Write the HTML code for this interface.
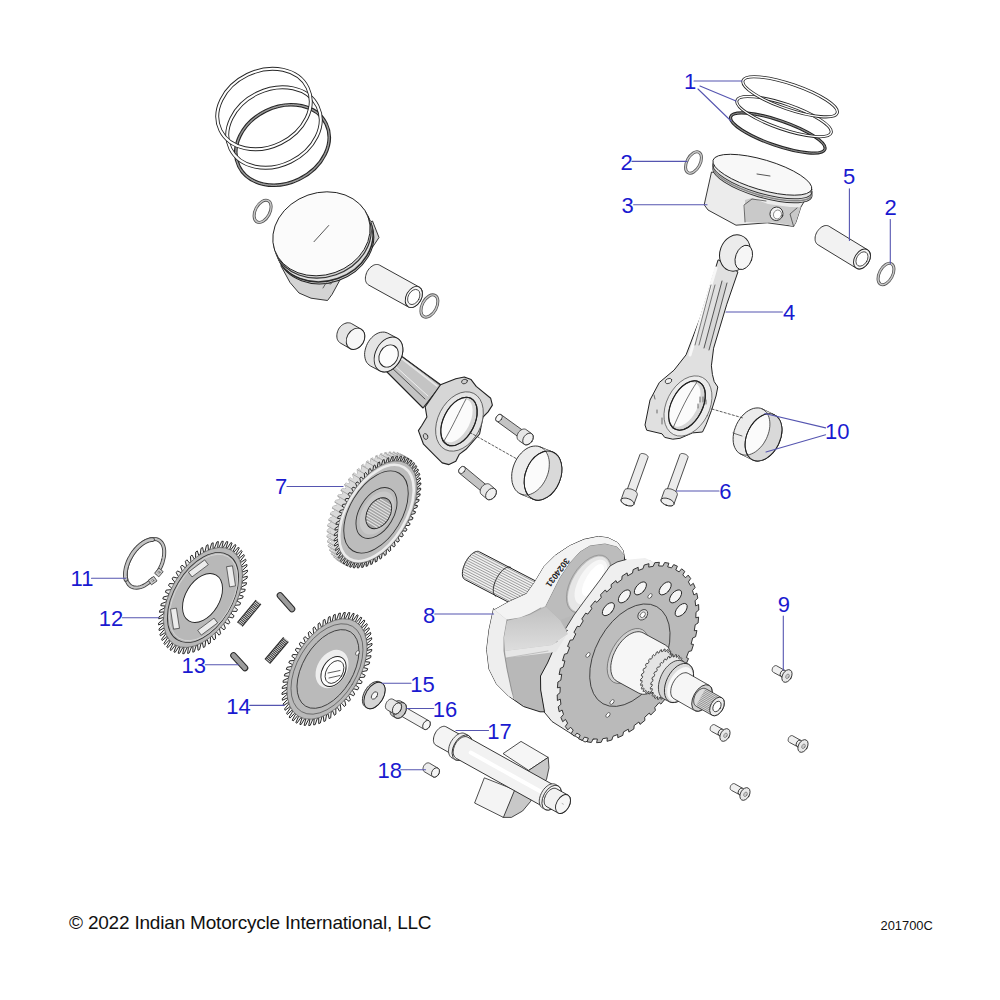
<!DOCTYPE html>
<html><head><meta charset="utf-8"><title>Crankshaft and Pistons</title>
<style>
html,body{margin:0;padding:0;background:#fff;width:1000px;height:1000px;overflow:hidden}
svg{position:absolute;left:0;top:0}
.ft{position:absolute;font-family:"Liberation Sans",sans-serif;color:#111;white-space:nowrap}
</style></head><body>
<svg width="1000" height="1000" viewBox="0 0 1000 1000" stroke-linejoin="round" stroke-linecap="round">
<ellipse cx="282.5" cy="145" rx="48.5" ry="38" transform="rotate(-26 282.5 145)" fill="none" stroke="#262626" stroke-width="3.6" />
<ellipse cx="282.5" cy="145" rx="48.5" ry="38" transform="rotate(-26 282.5 145)" fill="none" stroke="#9a9a9a" stroke-width="1.5" stroke-dasharray="1.2 0.8"/>
<ellipse cx="274" cy="127.5" rx="48.5" ry="38" transform="rotate(-26 274 127.5)" fill="none" stroke="#262626" stroke-width="3.9" />
<ellipse cx="274" cy="127.5" rx="48.5" ry="38" transform="rotate(-26 274 127.5)" fill="none" stroke="#fff" stroke-width="2.1" />
<ellipse cx="264" cy="109" rx="48.5" ry="38" transform="rotate(-26 264 109)" fill="none" stroke="#262626" stroke-width="3.9" />
<ellipse cx="264" cy="109" rx="48.5" ry="38" transform="rotate(-26 264 109)" fill="none" stroke="#fff" stroke-width="2.1" />
<ellipse cx="262.6" cy="211.3" rx="7.2" ry="12" transform="rotate(28 262.6 211.3)" fill="none" stroke="#555" stroke-width="3.0" />
<ellipse cx="262.6" cy="211.3" rx="7.2" ry="12" transform="rotate(28 262.6 211.3)" fill="none" stroke="#c8c8c8" stroke-width="1.4" />
<polygon points="281,266 290,282.5 299,293 311,298.2 327.5,300.5 332,294.5 341,278 359,266 374,245 379,237.5 372.5,221 330,240" fill="#d4d4d4" stroke="#222" stroke-width="0.9" />
<ellipse cx="325" cy="241.8" rx="49.6" ry="41" transform="rotate(-19.3 325 241.8)" fill="#d4d4d4" stroke="#222" stroke-width="1.0" />
<ellipse cx="324.2" cy="239.8" rx="49.6" ry="41" transform="rotate(-19.3 324.2 239.8)" fill="none" stroke="#2a2a2a" stroke-width="1.5" />
<ellipse cx="323.2" cy="237.8" rx="49.6" ry="41" transform="rotate(-19.3 323.2 237.8)" fill="none" stroke="#e8e8e8" stroke-width="0.8" />
<ellipse cx="322.4" cy="236" rx="49.6" ry="41" transform="rotate(-19.3 322.4 236)" fill="none" stroke="#333" stroke-width="1.2" />
<ellipse cx="321.5" cy="233.8" rx="49.6" ry="41" transform="rotate(-19.3 321.5 233.8)" fill="#fbfbfb" stroke="#222" stroke-width="0.9" />
<line x1="314" y1="241.7" x2="328.7" y2="225.5" stroke="#444" stroke-width="0.9" />
<polyline points="323,288 326,283 331,284 333,280" fill="none" stroke="#444" stroke-width="0.8" />
<polygon points="368.5,284.9 367.7,284.3 367,283.6 366.4,282.7 365.9,281.7 365.6,280.6 365.4,279.4 365.4,278.1 365.5,276.8 365.8,275.4 366.2,274 366.7,272.6 367.3,271.3 368.1,270.1 369,268.9 369.9,267.8 371,266.9 372.1,266.1 373.2,265.4 374.3,264.9 375.4,264.6 376.5,264.5 377.6,264.5 378.6,264.7 379.5,265.1 419.3,287.1 420.1,287.7 420.8,288.4 421.4,289.3 421.9,290.3 422.2,291.4 422.4,292.6 422.4,293.9 422.3,295.2 422,296.6 421.6,298 421.1,299.4 420.5,300.7 419.7,301.9 418.8,303.1 417.9,304.2 416.8,305.1 415.7,305.9 414.6,306.6 413.5,307.1 412.4,307.4 411.3,307.5 410.2,307.5 409.2,307.3 408.3,306.9" fill="#f2f2f2" stroke="#222" stroke-width="0.9" />
<ellipse cx="413.8" cy="297" rx="7.6" ry="11.3" transform="rotate(28.9 413.8 297)" fill="#f6f6f6" stroke="#222" stroke-width="0.9" />
<ellipse cx="413.8" cy="297" rx="5.5" ry="8.1" transform="rotate(28.9 413.8 297)" fill="#fff" stroke="#222" stroke-width="0.7200000000000001" />
<ellipse cx="429.4" cy="306" rx="7.2" ry="12" transform="rotate(28 429.4 306)" fill="none" stroke="#555" stroke-width="3.0" />
<ellipse cx="429.4" cy="306" rx="7.2" ry="12" transform="rotate(28 429.4 306)" fill="none" stroke="#c8c8c8" stroke-width="1.4" />
<polygon points="340.5,343.1 339.6,342.5 338.8,341.7 338.1,340.7 337.5,339.7 337.1,338.5 336.9,337.2 336.8,335.9 336.9,334.5 337.1,333.2 337.5,331.8 338,330.4 338.6,329.1 339.4,327.9 340.3,326.7 341.3,325.7 342.4,324.8 343.6,324.1 344.8,323.5 346,323.1 347.2,322.8 348.4,322.8 349.6,322.9 350.7,323.2 351.7,323.7 361.1,329.1 362,329.7 362.8,330.5 363.5,331.5 364.1,332.5 364.5,333.7 364.7,335 364.8,336.3 364.7,337.7 364.5,339 364.1,340.4 363.6,341.8 363,343.1 362.2,344.3 361.3,345.5 360.3,346.5 359.2,347.4 358,348.1 356.8,348.7 355.6,349.1 354.4,349.4 353.2,349.4 352,349.3 350.9,349 349.9,348.5" fill="#e4e4e4" stroke="#222" stroke-width="0.9" />
<ellipse cx="355.5" cy="338.8" rx="8.6" ry="11.2" transform="rotate(29.9 355.5 338.8)" fill="#f7f7f7" stroke="#222" stroke-width="0.9" />
<ellipse cx="777.8" cy="133" rx="49.8" ry="12.5" transform="rotate(19 777.8 133)" fill="none" stroke="#222" stroke-width="3.2" />
<ellipse cx="777.8" cy="133" rx="49.8" ry="12.5" transform="rotate(19 777.8 133)" fill="none" stroke="#888" stroke-width="1.2" stroke-dasharray="1.2 0.8"/>
<ellipse cx="784" cy="116.6" rx="49.8" ry="12.5" transform="rotate(19 784 116.6)" fill="none" stroke="#262626" stroke-width="3.1" />
<ellipse cx="784" cy="116.6" rx="49.8" ry="12.5" transform="rotate(19 784 116.6)" fill="none" stroke="#fff" stroke-width="1.4" />
<ellipse cx="790.1" cy="96.8" rx="49.8" ry="12.5" transform="rotate(19 790.1 96.8)" fill="none" stroke="#262626" stroke-width="3.1" />
<ellipse cx="790.1" cy="96.8" rx="49.8" ry="12.5" transform="rotate(19 790.1 96.8)" fill="none" stroke="#fff" stroke-width="1.4" />
<ellipse cx="693.5" cy="162.5" rx="6.6" ry="11.6" transform="rotate(28 693.5 162.5)" fill="none" stroke="#555" stroke-width="3.0" />
<ellipse cx="693.5" cy="162.5" rx="6.6" ry="11.6" transform="rotate(28 693.5 162.5)" fill="none" stroke="#c8c8c8" stroke-width="1.4" />
<ellipse cx="886" cy="274" rx="6.6" ry="11.6" transform="rotate(28 886 274)" fill="none" stroke="#555" stroke-width="3.0" />
<ellipse cx="886" cy="274" rx="6.6" ry="11.6" transform="rotate(28 886 274)" fill="none" stroke="#c8c8c8" stroke-width="1.4" />
<polygon points="711.4,172.4 704.2,204.8 708,210 736,225.2 767.2,222.8 793.6,226.4 796,222 800.8,207.2 808,195 760,182" fill="#ececec" stroke="#222" stroke-width="0.9" />
<polygon points="745,200 752,198 768,204 790,207 800.8,207.2 796,222 793.6,226.4 785,224 770,222 767.2,222.8 745,222" fill="#c9c9c9" stroke="none" stroke-width="0" />
<polyline points="745,222 744,205 752,199 766,201" fill="none" stroke="#333" stroke-width="0.7" />
<ellipse cx="776.5" cy="213.8" rx="6.5" ry="6.8" transform="rotate(20 776.5 213.8)" fill="#f4f4f4" stroke="#333" stroke-width="0.9" />
<ellipse cx="777.5" cy="214.5" rx="4" ry="4.5" transform="rotate(20 777.5 214.5)" fill="#fff" stroke="#555" stroke-width="0.6" />
<polyline points="793.6,226.4 790,214 797,208" fill="none" stroke="#333" stroke-width="0.7" />
<ellipse cx="762.4" cy="182.3" rx="51.5" ry="15" transform="rotate(16.5 762.4 182.3)" fill="#e4e4e4" stroke="#333" stroke-width="1.0" />
<ellipse cx="762.4" cy="180.3" rx="51.5" ry="15" transform="rotate(16.5 762.4 180.3)" fill="none" stroke="#888" stroke-width="1.6" />
<ellipse cx="762.4" cy="178.3" rx="51.5" ry="15" transform="rotate(16.5 762.4 178.3)" fill="none" stroke="#333" stroke-width="1.0" />
<ellipse cx="762.4" cy="174.8" rx="51.5" ry="15" transform="rotate(16.5 762.4 174.8)" fill="#f8f8f8" stroke="#222" stroke-width="0.9" />
<line x1="757" y1="174" x2="770" y2="176" stroke="#555" stroke-width="1.0" />
<polygon points="817.9,244.7 817.1,244.1 816.4,243.4 815.9,242.5 815.5,241.6 815.2,240.5 815.1,239.3 815.1,238.1 815.2,236.8 815.5,235.5 815.9,234.2 816.5,232.9 817.2,231.6 818,230.5 818.9,229.4 819.8,228.4 820.8,227.6 821.9,226.8 823,226.3 824.1,225.8 825.2,225.6 826.3,225.5 827.3,225.6 828.3,225.9 829.1,226.3 867.6,249.8 868.4,250.4 869.1,251.1 869.6,252 870,252.9 870.3,254 870.4,255.2 870.4,256.4 870.3,257.7 870,259 869.6,260.3 869,261.6 868.3,262.9 867.5,264 866.6,265.1 865.7,266.1 864.7,266.9 863.6,267.7 862.5,268.2 861.4,268.7 860.3,268.9 859.2,269 858.2,268.9 857.2,268.6 856.4,268.2" fill="#f2f2f2" stroke="#222" stroke-width="0.9" />
<ellipse cx="862" cy="259" rx="7.4" ry="10.8" transform="rotate(31.4 862 259)" fill="#f4f4f4" stroke="#222" stroke-width="0.9" />
<ellipse cx="862" cy="259" rx="5.3" ry="7.8" transform="rotate(31.4 862 259)" fill="#fff" stroke="#222" stroke-width="0.7200000000000001" />
<polygon points="386,371 423,408 441,385 397,353" fill="#c4c4c4" stroke="#222" stroke-width="1.1" />
<polygon points="440.5,384.7 455.8,378.8 464.3,377 471.1,379.6 476.2,386.4 490.7,398.3 492.4,405.1 488.1,411.9 483,417 479.6,434 466,449.3 459.2,454.4 455.8,461.2 449,464.6 442.2,462.9 435.4,456.1 423.5,444.2 418.4,430.6 421.8,425.5 426.9,417 425.2,406.8" fill="#d6d6d6" stroke="#222" stroke-width="1.1" />
<line x1="401" y1="358" x2="437" y2="386" stroke="#e8e8e8" stroke-width="1.6" />
<line x1="391" y1="367" x2="425" y2="399" stroke="#333" stroke-width="0.8" />
<line x1="394" y1="365" x2="428" y2="396" stroke="#eee" stroke-width="1.0" />
<line x1="403" y1="357" x2="440" y2="385" stroke="#333" stroke-width="0.8" />
<ellipse cx="459.5" cy="421.5" rx="21.5" ry="31.5" transform="rotate(27 459.5 421.5)" fill="#e4e4e4" stroke="#555" stroke-width="0.8" />
<ellipse cx="459" cy="421.5" rx="15.5" ry="26" transform="rotate(27 459 421.5)" fill="#d6d6d6" stroke="#222" stroke-width="1.1" />
<ellipse cx="457" cy="420.6" rx="12.8" ry="23.5" transform="rotate(27 457 420.6)" fill="#fbfbfb" stroke="none" stroke-width="0" />
<ellipse cx="459" cy="421.5" rx="15.5" ry="26" transform="rotate(27 459 421.5)" fill="none" stroke="#222" stroke-width="1.1" />
<path d="M466,399 C460,410 452,428 444,441" stroke="#333" stroke-width="0.7" fill="none"/>
<ellipse cx="464.5" cy="381.5" rx="3" ry="2.2" transform="rotate(-20 464.5 381.5)" fill="#cfcfcf" stroke="#333" stroke-width="0.8" />
<ellipse cx="425.6" cy="436.5" rx="2.2" ry="3" transform="rotate(-20 425.6 436.5)" fill="#cfcfcf" stroke="#333" stroke-width="0.8" />
<polygon points="370.4,365.9 369,364.9 367.7,363.7 366.6,362.3 365.8,360.7 365.2,358.8 364.8,356.8 364.6,354.7 364.7,352.4 365.1,350.2 365.7,347.9 366.5,345.6 367.5,343.4 368.7,341.4 370.1,339.4 371.7,337.6 373.3,336.1 375.1,334.7 377,333.6 378.8,332.8 380.7,332.3 382.6,332.1 384.3,332.1 386,332.5 387.6,333.1 397.1,338.1 398.5,339.1 399.8,340.3 400.9,341.7 401.7,343.3 402.3,345.2 402.7,347.2 402.9,349.3 402.8,351.6 402.4,353.8 401.8,356.1 401,358.4 400,360.6 398.8,362.6 397.4,364.6 395.8,366.4 394.2,367.9 392.4,369.3 390.5,370.4 388.7,371.2 386.8,371.7 384.9,371.9 383.2,371.9 381.5,371.5 379.9,370.9" fill="#e4e4e4" stroke="#222" stroke-width="0.9" />
<ellipse cx="388.5" cy="354.5" rx="13" ry="18.5" transform="rotate(27.8 388.5 354.5)" fill="#eeeeee" stroke="#222" stroke-width="0.9" />
<ellipse cx="388.6" cy="356" rx="9.2" ry="11.6" transform="rotate(28 388.6 356)" fill="#fdfdfd" stroke="#222" stroke-width="0.9" />
<polygon points="496.7,421.2 496.4,421 496.1,420.7 496,420.4 495.8,420 495.8,419.6 495.7,419.1 495.8,418.7 495.9,418.2 496,417.7 496.2,417.3 496.4,416.8 496.7,416.4 497.1,415.9 497.4,415.6 497.8,415.2 498.2,415 498.6,414.7 499.1,414.5 499.5,414.4 499.9,414.4 500.3,414.4 500.7,414.4 501,414.6 501.3,414.8 524.7,431.7 525,431.9 525.2,432.2 525.4,432.5 525.5,432.9 525.6,433.3 525.6,433.8 525.6,434.2 525.5,434.7 525.3,435.2 525.1,435.6 524.9,436.1 524.6,436.5 524.3,436.9 523.9,437.3 523.5,437.7 523.1,437.9 522.7,438.2 522.3,438.3 521.8,438.5 521.4,438.5 521,438.5 520.7,438.4 520.3,438.3 520,438.1" fill="#c4c4c4" stroke="#222" stroke-width="0.8" />
<ellipse cx="522.3" cy="434.9" rx="2.8" ry="4" transform="rotate(35.9 522.3 434.9)" fill="#d0d0d0" stroke="#222" stroke-width="0.8" />
<ellipse cx="499" cy="418" rx="2.8" ry="4" transform="rotate(35.9 499 418)" fill="#f8f8f8" stroke="#222" stroke-width="0.7" />
<polygon points="518.5,440.2 518.1,439.8 517.7,439.3 517.4,438.7 517.2,438.1 517.1,437.4 517,436.7 517.1,436 517.2,435.2 517.5,434.4 517.8,433.7 518.2,432.9 518.6,432.2 519.2,431.6 519.8,431 520.4,430.4 521,430 521.7,429.6 522.4,429.3 523.1,429.1 523.8,429 524.4,429 525.1,429.1 525.6,429.3 526.1,429.6 531.8,433.7 532.3,434.1 532.6,434.6 532.9,435.2 533.1,435.8 533.3,436.4 533.3,437.2 533.2,437.9 533.1,438.7 532.9,439.5 532.5,440.2 532.2,441 531.7,441.7 531.2,442.3 530.6,442.9 529.9,443.5 529.3,443.9 528.6,444.3 527.9,444.6 527.2,444.8 526.5,444.9 525.9,444.9 525.3,444.8 524.7,444.6 524.2,444.3" fill="#e6e6e6" stroke="#222" stroke-width="0.8" />
<ellipse cx="528" cy="439" rx="4.5" ry="6.5" transform="rotate(35.9 528 439)" fill="#f0f0f0" stroke="#222" stroke-width="0.8" />
<polygon points="459.4,473.1 459.2,472.8 459,472.5 458.8,472.2 458.7,471.8 458.7,471.4 458.7,470.9 458.7,470.5 458.9,470 459,469.5 459.3,469.1 459.5,468.6 459.8,468.2 460.2,467.8 460.6,467.5 461,467.2 461.4,466.9 461.8,466.7 462.3,466.6 462.7,466.5 463.1,466.4 463.5,466.5 463.9,466.6 464.2,466.7 464.6,466.9 488.2,486.5 488.4,486.7 488.6,487 488.8,487.4 488.9,487.8 488.9,488.2 488.9,488.6 488.9,489.1 488.8,489.5 488.6,490 488.4,490.5 488.1,490.9 487.8,491.3 487.4,491.7 487,492.1 486.6,492.4 486.2,492.6 485.8,492.8 485.3,493 484.9,493.1 484.5,493.1 484.1,493.1 483.7,493 483.4,492.8 483.1,492.6" fill="#c4c4c4" stroke="#222" stroke-width="0.8" />
<ellipse cx="485.6" cy="489.5" rx="2.8" ry="4" transform="rotate(39.6 485.6 489.5)" fill="#d0d0d0" stroke="#222" stroke-width="0.8" />
<ellipse cx="462" cy="470" rx="2.8" ry="4" transform="rotate(39.6 462 470)" fill="#f8f8f8" stroke="#222" stroke-width="0.7" />
<polygon points="481.5,494.5 481,494.1 480.7,493.6 480.4,493.1 480.3,492.4 480.2,491.7 480.2,491 480.3,490.3 480.5,489.5 480.8,488.8 481.1,488 481.6,487.3 482.1,486.6 482.7,486 483.3,485.4 484,484.9 484.6,484.5 485.3,484.2 486.1,483.9 486.8,483.8 487.4,483.7 488.1,483.8 488.7,483.9 489.3,484.2 489.8,484.5 495.1,489 495.6,489.4 495.9,489.9 496.2,490.5 496.3,491.1 496.4,491.8 496.4,492.5 496.3,493.3 496.1,494 495.8,494.8 495.5,495.5 495,496.2 494.5,496.9 493.9,497.5 493.3,498.1 492.7,498.6 492,499 491.3,499.3 490.5,499.6 489.8,499.7 489.2,499.8 488.5,499.7 487.9,499.6 487.3,499.3 486.9,499" fill="#e6e6e6" stroke="#222" stroke-width="0.8" />
<ellipse cx="491" cy="494" rx="4.5" ry="6.5" transform="rotate(39.6 491 494)" fill="#f0f0f0" stroke="#222" stroke-width="0.8" />
<line x1="470" y1="432.5" x2="518.7" y2="460" stroke="#333" stroke-width="0.8" stroke-dasharray="2.2 2"/>
<polygon points="520.9,494.1 518.8,493 517,491.6 515.4,489.8 514.1,487.6 513,485.2 512.2,482.5 511.8,479.6 511.7,476.6 511.8,473.4 512.4,470.2 513.2,467 514.3,463.9 515.7,460.9 517.3,458 519.2,455.4 521.3,453 523.5,450.9 525.9,449.1 528.3,447.7 530.7,446.7 533.2,446.2 535.6,446 537.9,446.2 540.1,446.9 552.6,452 554.7,453.1 556.5,454.5 558.1,456.3 559.4,458.5 560.5,460.9 561.3,463.6 561.7,466.5 561.8,469.5 561.7,472.7 561.1,475.9 560.3,479.1 559.2,482.2 557.8,485.2 556.2,488.1 554.3,490.7 552.2,493.1 550,495.2 547.6,497 545.2,498.4 542.8,499.4 540.3,499.9 537.9,500.1 535.6,499.9 533.4,499.2" fill="#ececec" stroke="#222" stroke-width="0.9" />
<ellipse cx="543" cy="475.6" rx="17.5" ry="25.5" transform="rotate(22.2 543 475.6)" fill="#fbfbfb" stroke="#222" stroke-width="0.9" />
<polygon points="552.6,452 554.3,452.8 555.8,453.9 557.2,455.2 558.4,456.7 559.4,458.5 560.3,460.4 561,462.5 561.5,464.7 561.8,467.1 561.8,469.5 561.7,472 561.4,474.6 560.9,477.2 560.1,479.7 559.2,482.2 558.1,484.6 556.8,487 555.4,489.2 553.9,491.2 552.2,493.1 550.4,494.8 548.6,496.3 546.7,497.6 544.7,498.6 542.8,499.4 540.8,499.9 538.8,500.1 536.9,500.1 535.1,499.8 533.4,499.2 520.9,494.1 522.6,494.7 524.4,495 526.3,495 528.3,494.8 530.3,494.3 532.2,493.5 534.2,492.5 536.1,491.2 537.9,489.7 539.7,488 541.4,486.1 542.9,484.1 544.3,481.9 545.6,479.5 546.7,477.1 547.6,474.6 548.4,472.1 548.9,469.5 549.2,466.9 549.3,464.4 549.3,462 549,459.6 548.5,457.4 547.8,455.3 546.9,453.4 545.9,451.6 544.7,450.1 543.3,448.8 541.8,447.7 540.1,446.9" fill="#d9d9d9" stroke="none" stroke-width="0" />
<polyline points="520.9,494.1 522.6,494.7 524.4,495 526.3,495 528.3,494.8 530.3,494.3 532.2,493.5 534.2,492.5 536.1,491.2 537.9,489.7 539.7,488 541.4,486.1 542.9,484.1 544.3,481.9 545.6,479.5 546.7,477.1 547.6,474.6 548.4,472.1 548.9,469.5 549.2,466.9 549.3,464.4 549.3,462 549,459.6 548.5,457.4 547.8,455.3 546.9,453.4 545.9,451.6 544.7,450.1 543.3,448.8 541.8,447.7 540.1,446.9" fill="none" stroke="#333" stroke-width="0.8" />
<ellipse cx="543" cy="475.6" rx="17.5" ry="25.5" transform="rotate(22.2 543 475.6)" fill="none" stroke="#222" stroke-width="0.9" />
<polygon points="718,260.2 700.4,317.4 686.1,354.8 674,370.2 659.3,382.5 650,400 645,425 646.7,430.2 662,433.8 664.7,437.4 672.8,439.2 680,438.3 692.6,432.9 702.5,432 706,424.8 711.5,410.4 716,396 717.8,387 714.2,381.6 712.4,374.4 711.4,365.8 713.6,348.2 726.8,304.2 737.8,272.3" fill="#e0e0e0" stroke="#222" stroke-width="1.0" />
<line x1="716" y1="268" x2="690" y2="355" stroke="#f8f8f8" stroke-width="3.0" />
<polygon points="722,281 727,283 709,350 704,348" fill="#d6d6d6" stroke="none" stroke-width="0" />
<line x1="727" y1="283" x2="709" y2="350" stroke="#333" stroke-width="0.8" />
<line x1="722" y1="281" x2="704" y2="348" stroke="#333" stroke-width="0.8" />
<line x1="715" y1="285" x2="699" y2="345" stroke="#444" stroke-width="0.7" />
<line x1="711" y1="285" x2="695" y2="345" stroke="#444" stroke-width="0.7" />
<ellipse cx="735" cy="253" rx="15" ry="18.5" transform="rotate(20 735 253)" fill="#ececec" stroke="#222" stroke-width="1.0" />
<ellipse cx="743.8" cy="257.4" rx="8.2" ry="12.6" transform="rotate(20 743.8 257.4)" fill="#f6f6f6" stroke="#222" stroke-width="0.9" />
<ellipse cx="688" cy="406" rx="21.5" ry="32" transform="rotate(27 688 406)" fill="#ececec" stroke="#555" stroke-width="0.7" />
<ellipse cx="687" cy="405.5" rx="15.5" ry="26.5" transform="rotate(27 687 405.5)" fill="#d6d6d6" stroke="#222" stroke-width="1.1" />
<ellipse cx="684.8" cy="404.6" rx="12.8" ry="24" transform="rotate(27 684.8 404.6)" fill="#fbfbfb" stroke="none" stroke-width="0" />
<ellipse cx="687" cy="405.5" rx="15.5" ry="26.5" transform="rotate(27 687 405.5)" fill="none" stroke="#222" stroke-width="1.1" />
<path d="M697,382 C688,395 680,412 673,428" stroke="#333" stroke-width="0.7" fill="none"/>
<ellipse cx="668.5" cy="381" rx="3.5" ry="2.4" transform="rotate(-25 668.5 381)" fill="#eee" stroke="#333" stroke-width="0.8" />
<line x1="700" y1="397" x2="700" y2="402" stroke="#333" stroke-width="0.7" />
<line x1="703" y1="397" x2="703" y2="402" stroke="#333" stroke-width="0.7" />
<line x1="706" y1="400" x2="706" y2="404" stroke="#333" stroke-width="0.7" />
<line x1="698" y1="404" x2="698" y2="408" stroke="#333" stroke-width="0.7" />
<line x1="657" y1="410" x2="657" y2="413" stroke="#333" stroke-width="0.7" />
<line x1="662" y1="418" x2="662" y2="424" stroke="#333" stroke-width="0.7" />
<line x1="654" y1="395" x2="655" y2="399" stroke="#333" stroke-width="0.7" />
<path d="M399.8,525.6 L398.8,527.3 L395.7,526.7 L394.7,528.3 L396.2,531.2 L395,532.9 L392.3,531.8 L391.2,533.2 L392.3,536.6 L391,538.2 L388.5,536.5 L387.4,537.9 L388.1,541.6 L386.8,543.1 L384.6,540.9 L383.4,542.2 L383.7,546.3 L382.4,547.6 L380.5,545 L379.3,546.1 L379.2,550.4 L377.8,551.6 L376.3,548.6 L375.1,549.6 L374.5,554.1 L373.1,555.1 L372.1,551.7 L370.8,552.6 L369.9,557.3 L368.5,558.1 L367.8,554.3 L366.5,555 L365.2,559.8 L363.8,560.5 L363.5,556.4 L362.2,556.9 L360.6,561.8 L359.2,562.3 L359.3,557.9 L358.1,558.2 L356.1,563.1 L354.7,563.4 L355.3,558.8 L354.1,559 L351.7,563.8 L350.5,563.9 L351.4,559.2 L350.3,559.1 L347.6,563.8 L346.4,563.7 L347.8,558.9 L346.7,558.7 L343.8,563.2 L342.7,562.9 L344.4,558 L343.4,557.6 L340.3,561.9 L339.3,561.4 L341.3,556.5 L340.5,556 L337.1,560 L336.2,559.3 L338.6,554.5 L337.9,553.8 L334.3,557.5 L333.5,556.6 L336.2,551.9 L335.6,551.1 L331.9,554.4 L331.3,553.4 L334.3,548.9 L333.8,547.8 L330,550.8 L329.6,549.6 L332.8,545.3 L332.4,544.1 L328.6,546.6 L328.3,545.3 L331.7,541.3 L331.4,540 L327.7,542 L327.5,540.6 L331,536.9 L330.9,535.5 L327.2,537 L327.2,535.5 L330.9,532.2 L330.9,530.7 L327.3,531.7 L327.4,530 L331.2,527.1 L331.4,525.6 L327.9,526.1 L328.1,524.4 L331.9,521.9 L332.2,520.3 L328.9,520.3 L329.4,518.5 L333.1,516.5 L333.6,514.9 L330.5,514.3 L331.1,512.5 L334.8,511 L335.4,509.3 L332.5,508.2 L333.2,506.4 L336.9,505.5 L337.5,503.8 L335,502.2 L335.8,500.4 L339.3,499.9 L340.1,498.3 L337.9,496.2 L338.9,494.5 L342.1,494.5 L343.1,492.9 L341.2,490.4 L342.2,488.7 L345.3,489.3 L346.3,487.7 L344.8,484.8 L346,483.1 L348.7,484.2 L349.8,482.8 L348.7,479.4 L350,477.8 L352.5,479.5 L353.6,478.1 L352.9,474.4 L354.2,472.9 L356.4,475.1 L357.6,473.8 L357.3,469.7 L358.6,468.4 L360.5,471 L361.7,469.9 L361.8,465.6 L363.2,464.4 L364.7,467.4 L365.9,466.4 L366.5,461.9 L367.9,460.9 L368.9,464.3 L370.2,463.4 L371.1,458.7 L372.5,457.9 L373.2,461.7 L374.5,461 L375.8,456.2 L377.2,455.5 L377.5,459.6 L378.8,459.1 L380.4,454.2 L381.8,453.7 L381.7,458.1 L382.9,457.8 L384.9,452.9 L386.3,452.6 L385.7,457.2 L386.9,457 L389.3,452.2 L390.5,452.1 L389.6,456.8 L390.7,456.9 L393.4,452.2 L394.6,452.3 L393.2,457.1 L394.3,457.3 L397.2,452.8 L398.3,453.1 L396.6,458 L397.6,458.4 L400.7,454.1 L401.7,454.6 L399.7,459.5 L400.5,460 L403.9,456 L404.8,456.7 L402.4,461.5 L403.1,462.2 L406.7,458.5 L407.5,459.4 L404.8,464.1 L405.4,464.9 L409.1,461.6 L409.7,462.6 L406.7,467.1 L407.2,468.2 L411,465.2 L411.4,466.4 L408.2,470.7 L408.6,471.9 L412.4,469.4 L412.7,470.7 L409.3,474.7 L409.6,476 L413.3,474 L413.5,475.4 L410,479.1 L410.1,480.5 L413.8,479 L413.8,480.5 L410.1,483.8 L410.1,485.3 L413.7,484.3 L413.6,486 L409.8,488.9 L409.6,490.4 L413.1,489.9 L412.9,491.6 L409.1,494.1 L408.8,495.7 L412.1,495.7 L411.6,497.5 L407.9,499.5 L407.4,501.1 L410.5,501.7 L409.9,503.5 L406.2,505 L405.6,506.7 L408.5,507.8 L407.8,509.6 L404.1,510.5 L403.5,512.2 L406,513.8 L405.2,515.6 L401.7,516.1 L400.9,517.7 L403.1,519.8 L402.1,521.5 L398.9,521.5 L397.9,523.1Z" fill="#c4c4c4" stroke="#555" stroke-width="0.7"/>
<path d="M399.8,525.6L398.8,527.3L405.8,531.3L406.8,529.6ZM398.8,527.3L395.7,526.7L402.7,530.7L405.8,531.3ZM395.7,526.7L394.7,528.3L401.7,532.3L402.7,530.7ZM394.7,528.3L396.2,531.2L403.2,535.2L401.7,532.3ZM396.2,531.2L395,532.9L402,536.9L403.2,535.2ZM395,532.9L392.3,531.8L399.3,535.8L402,536.9ZM392.3,531.8L391.2,533.2L398.2,537.2L399.3,535.8ZM391.2,533.2L392.3,536.6L399.3,540.6L398.2,537.2ZM392.3,536.6L391,538.2L398,542.2L399.3,540.6ZM391,538.2L388.5,536.5L395.5,540.5L398,542.2ZM388.5,536.5L387.4,537.9L394.4,541.9L395.5,540.5ZM387.4,537.9L388.1,541.6L395.1,545.6L394.4,541.9ZM388.1,541.6L386.8,543.1L393.8,547.1L395.1,545.6ZM386.8,543.1L384.6,540.9L391.6,544.9L393.8,547.1ZM384.6,540.9L383.4,542.2L390.4,546.2L391.6,544.9ZM383.4,542.2L383.7,546.3L390.7,550.3L390.4,546.2ZM383.7,546.3L382.4,547.6L389.4,551.6L390.7,550.3ZM382.4,547.6L380.5,545L387.5,549L389.4,551.6ZM380.5,545L379.3,546.1L386.3,550.1L387.5,549ZM379.3,546.1L379.2,550.4L386.2,554.4L386.3,550.1ZM379.2,550.4L377.8,551.6L384.8,555.6L386.2,554.4ZM377.8,551.6L376.3,548.6L383.3,552.6L384.8,555.6ZM376.3,548.6L375.1,549.6L382.1,553.6L383.3,552.6ZM375.1,549.6L374.5,554.1L381.5,558.1L382.1,553.6ZM374.5,554.1L373.1,555.1L380.1,559.1L381.5,558.1ZM373.1,555.1L372.1,551.7L379.1,555.7L380.1,559.1ZM372.1,551.7L370.8,552.6L377.8,556.6L379.1,555.7ZM370.8,552.6L369.9,557.3L376.9,561.3L377.8,556.6ZM369.9,557.3L368.5,558.1L375.5,562.1L376.9,561.3ZM368.5,558.1L367.8,554.3L374.8,558.3L375.5,562.1ZM367.8,554.3L366.5,555L373.5,559L374.8,558.3ZM366.5,555L365.2,559.8L372.2,563.8L373.5,559ZM365.2,559.8L363.8,560.5L370.8,564.5L372.2,563.8ZM363.8,560.5L363.5,556.4L370.5,560.4L370.8,564.5ZM363.5,556.4L362.2,556.9L369.2,560.9L370.5,560.4ZM362.2,556.9L360.6,561.8L367.6,565.8L369.2,560.9ZM360.6,561.8L359.2,562.3L366.2,566.3L367.6,565.8ZM359.2,562.3L359.3,557.9L366.3,561.9L366.2,566.3ZM359.3,557.9L358.1,558.2L365.1,562.2L366.3,561.9ZM358.1,558.2L356.1,563.1L363.1,567.1L365.1,562.2ZM356.1,563.1L354.7,563.4L361.7,567.4L363.1,567.1ZM354.7,563.4L355.3,558.8L362.3,562.8L361.7,567.4ZM355.3,558.8L354.1,559L361.1,563L362.3,562.8ZM354.1,559L351.7,563.8L358.7,567.8L361.1,563ZM351.7,563.8L350.5,563.9L357.5,567.9L358.7,567.8ZM350.5,563.9L351.4,559.2L358.4,563.2L357.5,567.9ZM351.4,559.2L350.3,559.1L357.3,563.1L358.4,563.2ZM350.3,559.1L347.6,563.8L354.6,567.8L357.3,563.1ZM347.6,563.8L346.4,563.7L353.4,567.7L354.6,567.8ZM346.4,563.7L347.8,558.9L354.8,562.9L353.4,567.7ZM347.8,558.9L346.7,558.7L353.7,562.7L354.8,562.9ZM346.7,558.7L343.8,563.2L350.8,567.2L353.7,562.7ZM343.8,563.2L342.7,562.9L349.7,566.9L350.8,567.2ZM342.7,562.9L344.4,558L351.4,562L349.7,566.9ZM344.4,558L343.4,557.6L350.4,561.6L351.4,562ZM343.4,557.6L340.3,561.9L347.3,565.9L350.4,561.6ZM340.3,561.9L339.3,561.4L346.3,565.4L347.3,565.9ZM339.3,561.4L341.3,556.5L348.3,560.5L346.3,565.4ZM341.3,556.5L340.5,556L347.5,560L348.3,560.5ZM340.5,556L337.1,560L344.1,564L347.5,560ZM337.1,560L336.2,559.3L343.2,563.3L344.1,564ZM336.2,559.3L338.6,554.5L345.6,558.5L343.2,563.3ZM338.6,554.5L337.9,553.8L344.9,557.8L345.6,558.5ZM337.9,553.8L334.3,557.5L341.3,561.5L344.9,557.8ZM334.3,557.5L333.5,556.6L340.5,560.6L341.3,561.5ZM333.5,556.6L336.2,551.9L343.2,555.9L340.5,560.6ZM336.2,551.9L335.6,551.1L342.6,555.1L343.2,555.9ZM335.6,551.1L331.9,554.4L338.9,558.4L342.6,555.1ZM331.9,554.4L331.3,553.4L338.3,557.4L338.9,558.4ZM331.3,553.4L334.3,548.9L341.3,552.9L338.3,557.4ZM334.3,548.9L333.8,547.8L340.8,551.8L341.3,552.9ZM333.8,547.8L330,550.8L337,554.8L340.8,551.8ZM330,550.8L329.6,549.6L336.6,553.6L337,554.8ZM329.6,549.6L332.8,545.3L339.8,549.3L336.6,553.6ZM332.8,545.3L332.4,544.1L339.4,548.1L339.8,549.3ZM332.4,544.1L328.6,546.6L335.6,550.6L339.4,548.1ZM328.6,546.6L328.3,545.3L335.3,549.3L335.6,550.6ZM328.3,545.3L331.7,541.3L338.7,545.3L335.3,549.3ZM331.7,541.3L331.4,540L338.4,544L338.7,545.3ZM331.4,540L327.7,542L334.7,546L338.4,544ZM327.7,542L327.5,540.6L334.5,544.6L334.7,546ZM327.5,540.6L331,536.9L338,540.9L334.5,544.6ZM331,536.9L330.9,535.5L337.9,539.5L338,540.9ZM330.9,535.5L327.2,537L334.2,541L337.9,539.5ZM327.2,537L327.2,535.5L334.2,539.5L334.2,541ZM327.2,535.5L330.9,532.2L337.9,536.2L334.2,539.5ZM330.9,532.2L330.9,530.7L337.9,534.7L337.9,536.2ZM330.9,530.7L327.3,531.7L334.3,535.7L337.9,534.7ZM327.3,531.7L327.4,530L334.4,534L334.3,535.7ZM327.4,530L331.2,527.1L338.2,531.1L334.4,534ZM331.2,527.1L331.4,525.6L338.4,529.6L338.2,531.1ZM331.4,525.6L327.9,526.1L334.9,530.1L338.4,529.6ZM327.9,526.1L328.1,524.4L335.1,528.4L334.9,530.1ZM328.1,524.4L331.9,521.9L338.9,525.9L335.1,528.4ZM331.9,521.9L332.2,520.3L339.2,524.3L338.9,525.9ZM332.2,520.3L328.9,520.3L335.9,524.3L339.2,524.3ZM328.9,520.3L329.4,518.5L336.4,522.5L335.9,524.3ZM329.4,518.5L333.1,516.5L340.1,520.5L336.4,522.5ZM333.1,516.5L333.6,514.9L340.6,518.9L340.1,520.5ZM333.6,514.9L330.5,514.3L337.5,518.3L340.6,518.9ZM330.5,514.3L331.1,512.5L338.1,516.5L337.5,518.3ZM331.1,512.5L334.8,511L341.8,515L338.1,516.5ZM334.8,511L335.4,509.3L342.4,513.3L341.8,515ZM335.4,509.3L332.5,508.2L339.5,512.2L342.4,513.3ZM332.5,508.2L333.2,506.4L340.2,510.4L339.5,512.2ZM333.2,506.4L336.9,505.5L343.9,509.5L340.2,510.4ZM336.9,505.5L337.5,503.8L344.5,507.8L343.9,509.5ZM337.5,503.8L335,502.2L342,506.2L344.5,507.8ZM335,502.2L335.8,500.4L342.8,504.4L342,506.2ZM335.8,500.4L339.3,499.9L346.3,503.9L342.8,504.4ZM339.3,499.9L340.1,498.3L347.1,502.3L346.3,503.9ZM340.1,498.3L337.9,496.2L344.9,500.2L347.1,502.3ZM337.9,496.2L338.9,494.5L345.9,498.5L344.9,500.2ZM338.9,494.5L342.1,494.5L349.1,498.5L345.9,498.5ZM342.1,494.5L343.1,492.9L350.1,496.9L349.1,498.5ZM343.1,492.9L341.2,490.4L348.2,494.4L350.1,496.9ZM341.2,490.4L342.2,488.7L349.2,492.7L348.2,494.4ZM342.2,488.7L345.3,489.3L352.3,493.3L349.2,492.7ZM345.3,489.3L346.3,487.7L353.3,491.7L352.3,493.3ZM346.3,487.7L344.8,484.8L351.8,488.8L353.3,491.7ZM344.8,484.8L346,483.1L353,487.1L351.8,488.8ZM346,483.1L348.7,484.2L355.7,488.2L353,487.1ZM348.7,484.2L349.8,482.8L356.8,486.8L355.7,488.2ZM349.8,482.8L348.7,479.4L355.7,483.4L356.8,486.8ZM348.7,479.4L350,477.8L357,481.8L355.7,483.4ZM350,477.8L352.5,479.5L359.5,483.5L357,481.8ZM352.5,479.5L353.6,478.1L360.6,482.1L359.5,483.5ZM353.6,478.1L352.9,474.4L359.9,478.4L360.6,482.1ZM352.9,474.4L354.2,472.9L361.2,476.9L359.9,478.4ZM354.2,472.9L356.4,475.1L363.4,479.1L361.2,476.9ZM356.4,475.1L357.6,473.8L364.6,477.8L363.4,479.1ZM357.6,473.8L357.3,469.7L364.3,473.7L364.6,477.8ZM357.3,469.7L358.6,468.4L365.6,472.4L364.3,473.7ZM358.6,468.4L360.5,471L367.5,475L365.6,472.4ZM360.5,471L361.7,469.9L368.7,473.9L367.5,475ZM361.7,469.9L361.8,465.6L368.8,469.6L368.7,473.9ZM361.8,465.6L363.2,464.4L370.2,468.4L368.8,469.6ZM363.2,464.4L364.7,467.4L371.7,471.4L370.2,468.4ZM364.7,467.4L365.9,466.4L372.9,470.4L371.7,471.4ZM365.9,466.4L366.5,461.9L373.5,465.9L372.9,470.4ZM366.5,461.9L367.9,460.9L374.9,464.9L373.5,465.9ZM367.9,460.9L368.9,464.3L375.9,468.3L374.9,464.9ZM368.9,464.3L370.2,463.4L377.2,467.4L375.9,468.3ZM370.2,463.4L371.1,458.7L378.1,462.7L377.2,467.4ZM371.1,458.7L372.5,457.9L379.5,461.9L378.1,462.7ZM372.5,457.9L373.2,461.7L380.2,465.7L379.5,461.9ZM373.2,461.7L374.5,461L381.5,465L380.2,465.7ZM374.5,461L375.8,456.2L382.8,460.2L381.5,465ZM375.8,456.2L377.2,455.5L384.2,459.5L382.8,460.2ZM377.2,455.5L377.5,459.6L384.5,463.6L384.2,459.5ZM377.5,459.6L378.8,459.1L385.8,463.1L384.5,463.6ZM378.8,459.1L380.4,454.2L387.4,458.2L385.8,463.1ZM380.4,454.2L381.8,453.7L388.8,457.7L387.4,458.2ZM381.8,453.7L381.7,458.1L388.7,462.1L388.8,457.7ZM381.7,458.1L382.9,457.8L389.9,461.8L388.7,462.1ZM382.9,457.8L384.9,452.9L391.9,456.9L389.9,461.8ZM384.9,452.9L386.3,452.6L393.3,456.6L391.9,456.9ZM386.3,452.6L385.7,457.2L392.7,461.2L393.3,456.6ZM385.7,457.2L386.9,457L393.9,461L392.7,461.2ZM386.9,457L389.3,452.2L396.3,456.2L393.9,461ZM389.3,452.2L390.5,452.1L397.5,456.1L396.3,456.2ZM390.5,452.1L389.6,456.8L396.6,460.8L397.5,456.1ZM389.6,456.8L390.7,456.9L397.7,460.9L396.6,460.8ZM390.7,456.9L393.4,452.2L400.4,456.2L397.7,460.9ZM393.4,452.2L394.6,452.3L401.6,456.3L400.4,456.2ZM394.6,452.3L393.2,457.1L400.2,461.1L401.6,456.3ZM393.2,457.1L394.3,457.3L401.3,461.3L400.2,461.1ZM394.3,457.3L397.2,452.8L404.2,456.8L401.3,461.3ZM397.2,452.8L398.3,453.1L405.3,457.1L404.2,456.8ZM398.3,453.1L396.6,458L403.6,462L405.3,457.1ZM396.6,458L397.6,458.4L404.6,462.4L403.6,462ZM397.6,458.4L400.7,454.1L407.7,458.1L404.6,462.4ZM400.7,454.1L401.7,454.6L408.7,458.6L407.7,458.1ZM401.7,454.6L399.7,459.5L406.7,463.5L408.7,458.6ZM399.7,459.5L400.5,460L407.5,464L406.7,463.5ZM400.5,460L403.9,456L410.9,460L407.5,464ZM403.9,456L404.8,456.7L411.8,460.7L410.9,460ZM404.8,456.7L402.4,461.5L409.4,465.5L411.8,460.7ZM402.4,461.5L403.1,462.2L410.1,466.2L409.4,465.5ZM403.1,462.2L406.7,458.5L413.7,462.5L410.1,466.2ZM406.7,458.5L407.5,459.4L414.5,463.4L413.7,462.5ZM407.5,459.4L404.8,464.1L411.8,468.1L414.5,463.4ZM404.8,464.1L405.4,464.9L412.4,468.9L411.8,468.1ZM405.4,464.9L409.1,461.6L416.1,465.6L412.4,468.9ZM409.1,461.6L409.7,462.6L416.7,466.6L416.1,465.6ZM409.7,462.6L406.7,467.1L413.7,471.1L416.7,466.6ZM406.7,467.1L407.2,468.2L414.2,472.2L413.7,471.1ZM407.2,468.2L411,465.2L418,469.2L414.2,472.2ZM411,465.2L411.4,466.4L418.4,470.4L418,469.2ZM411.4,466.4L408.2,470.7L415.2,474.7L418.4,470.4ZM408.2,470.7L408.6,471.9L415.6,475.9L415.2,474.7ZM408.6,471.9L412.4,469.4L419.4,473.4L415.6,475.9ZM412.4,469.4L412.7,470.7L419.7,474.7L419.4,473.4ZM412.7,470.7L409.3,474.7L416.3,478.7L419.7,474.7ZM409.3,474.7L409.6,476L416.6,480L416.3,478.7ZM409.6,476L413.3,474L420.3,478L416.6,480ZM413.3,474L413.5,475.4L420.5,479.4L420.3,478ZM413.5,475.4L410,479.1L417,483.1L420.5,479.4ZM410,479.1L410.1,480.5L417.1,484.5L417,483.1ZM410.1,480.5L413.8,479L420.8,483L417.1,484.5ZM413.8,479L413.8,480.5L420.8,484.5L420.8,483ZM413.8,480.5L410.1,483.8L417.1,487.8L420.8,484.5ZM410.1,483.8L410.1,485.3L417.1,489.3L417.1,487.8ZM410.1,485.3L413.7,484.3L420.7,488.3L417.1,489.3ZM413.7,484.3L413.6,486L420.6,490L420.7,488.3ZM413.6,486L409.8,488.9L416.8,492.9L420.6,490ZM409.8,488.9L409.6,490.4L416.6,494.4L416.8,492.9ZM409.6,490.4L413.1,489.9L420.1,493.9L416.6,494.4ZM413.1,489.9L412.9,491.6L419.9,495.6L420.1,493.9ZM412.9,491.6L409.1,494.1L416.1,498.1L419.9,495.6ZM409.1,494.1L408.8,495.7L415.8,499.7L416.1,498.1ZM408.8,495.7L412.1,495.7L419.1,499.7L415.8,499.7ZM412.1,495.7L411.6,497.5L418.6,501.5L419.1,499.7ZM411.6,497.5L407.9,499.5L414.9,503.5L418.6,501.5ZM407.9,499.5L407.4,501.1L414.4,505.1L414.9,503.5ZM407.4,501.1L410.5,501.7L417.5,505.7L414.4,505.1ZM410.5,501.7L409.9,503.5L416.9,507.5L417.5,505.7ZM409.9,503.5L406.2,505L413.2,509L416.9,507.5ZM406.2,505L405.6,506.7L412.6,510.7L413.2,509ZM405.6,506.7L408.5,507.8L415.5,511.8L412.6,510.7ZM408.5,507.8L407.8,509.6L414.8,513.6L415.5,511.8ZM407.8,509.6L404.1,510.5L411.1,514.5L414.8,513.6ZM404.1,510.5L403.5,512.2L410.5,516.2L411.1,514.5ZM403.5,512.2L406,513.8L413,517.8L410.5,516.2ZM406,513.8L405.2,515.6L412.2,519.6L413,517.8ZM405.2,515.6L401.7,516.1L408.7,520.1L412.2,519.6ZM401.7,516.1L400.9,517.7L407.9,521.7L408.7,520.1ZM400.9,517.7L403.1,519.8L410.1,523.8L407.9,521.7ZM403.1,519.8L402.1,521.5L409.1,525.5L410.1,523.8ZM402.1,521.5L398.9,521.5L405.9,525.5L409.1,525.5ZM398.9,521.5L397.9,523.1L404.9,527.1L405.9,525.5ZM397.9,523.1L399.8,525.6L406.8,529.6L404.9,527.1Z" fill="#dadada" stroke="#dadada" stroke-width="0.5"/>
<path d="M399.8,525.6L406.8,529.6M396.2,531.2L403.2,535.2M392.3,536.6L399.3,540.6M388.1,541.6L395.1,545.6M383.7,546.3L390.7,550.3M379.2,550.4L386.2,554.4M374.5,554.1L381.5,558.1M369.9,557.3L376.9,561.3M365.2,559.8L372.2,563.8M360.6,561.8L367.6,565.8M356.1,563.1L363.1,567.1M351.7,563.8L358.7,567.8M347.6,563.8L354.6,567.8M343.8,563.2L350.8,567.2M340.3,561.9L347.3,565.9M337.1,560L344.1,564M334.3,557.5L341.3,561.5M331.9,554.4L338.9,558.4M330,550.8L337,554.8M328.6,546.6L335.6,550.6M327.7,542L334.7,546M327.2,537L334.2,541M327.3,531.7L334.3,535.7M327.9,526.1L334.9,530.1M328.9,520.3L335.9,524.3M330.5,514.3L337.5,518.3M332.5,508.2L339.5,512.2M335,502.2L342,506.2M337.9,496.2L344.9,500.2M341.2,490.4L348.2,494.4M344.8,484.8L351.8,488.8M348.7,479.4L355.7,483.4M352.9,474.4L359.9,478.4M357.3,469.7L364.3,473.7M361.8,465.6L368.8,469.6M366.5,461.9L373.5,465.9M371.1,458.7L378.1,462.7M375.8,456.2L382.8,460.2M380.4,454.2L387.4,458.2M384.9,452.9L391.9,456.9M389.3,452.2L396.3,456.2M393.4,452.2L400.4,456.2M397.2,452.8L404.2,456.8M400.7,454.1L407.7,458.1M403.9,456L410.9,460M406.7,458.5L413.7,462.5M409.1,461.6L416.1,465.6M411,465.2L418,469.2M412.4,469.4L419.4,473.4M413.3,474L420.3,478M413.8,479L420.8,483M413.7,484.3L420.7,488.3M413.1,489.9L420.1,493.9M412.1,495.7L419.1,499.7M410.5,501.7L417.5,505.7M408.5,507.8L415.5,511.8M406,513.8L413,517.8M403.1,519.8L410.1,523.8" stroke="#777" stroke-width="0.5" fill="none"/>
<path d="M406.8,529.6 L405.8,531.3 L402.7,530.7 L401.7,532.3 L403.2,535.2 L402,536.9 L399.3,535.8 L398.2,537.2 L399.3,540.6 L398,542.2 L395.5,540.5 L394.4,541.9 L395.1,545.6 L393.8,547.1 L391.6,544.9 L390.4,546.2 L390.7,550.3 L389.4,551.6 L387.5,549 L386.3,550.1 L386.2,554.4 L384.8,555.6 L383.3,552.6 L382.1,553.6 L381.5,558.1 L380.1,559.1 L379.1,555.7 L377.8,556.6 L376.9,561.3 L375.5,562.1 L374.8,558.3 L373.5,559 L372.2,563.8 L370.8,564.5 L370.5,560.4 L369.2,560.9 L367.6,565.8 L366.2,566.3 L366.3,561.9 L365.1,562.2 L363.1,567.1 L361.7,567.4 L362.3,562.8 L361.1,563 L358.7,567.8 L357.5,567.9 L358.4,563.2 L357.3,563.1 L354.6,567.8 L353.4,567.7 L354.8,562.9 L353.7,562.7 L350.8,567.2 L349.7,566.9 L351.4,562 L350.4,561.6 L347.3,565.9 L346.3,565.4 L348.3,560.5 L347.5,560 L344.1,564 L343.2,563.3 L345.6,558.5 L344.9,557.8 L341.3,561.5 L340.5,560.6 L343.2,555.9 L342.6,555.1 L338.9,558.4 L338.3,557.4 L341.3,552.9 L340.8,551.8 L337,554.8 L336.6,553.6 L339.8,549.3 L339.4,548.1 L335.6,550.6 L335.3,549.3 L338.7,545.3 L338.4,544 L334.7,546 L334.5,544.6 L338,540.9 L337.9,539.5 L334.2,541 L334.2,539.5 L337.9,536.2 L337.9,534.7 L334.3,535.7 L334.4,534 L338.2,531.1 L338.4,529.6 L334.9,530.1 L335.1,528.4 L338.9,525.9 L339.2,524.3 L335.9,524.3 L336.4,522.5 L340.1,520.5 L340.6,518.9 L337.5,518.3 L338.1,516.5 L341.8,515 L342.4,513.3 L339.5,512.2 L340.2,510.4 L343.9,509.5 L344.5,507.8 L342,506.2 L342.8,504.4 L346.3,503.9 L347.1,502.3 L344.9,500.2 L345.9,498.5 L349.1,498.5 L350.1,496.9 L348.2,494.4 L349.2,492.7 L352.3,493.3 L353.3,491.7 L351.8,488.8 L353,487.1 L355.7,488.2 L356.8,486.8 L355.7,483.4 L357,481.8 L359.5,483.5 L360.6,482.1 L359.9,478.4 L361.2,476.9 L363.4,479.1 L364.6,477.8 L364.3,473.7 L365.6,472.4 L367.5,475 L368.7,473.9 L368.8,469.6 L370.2,468.4 L371.7,471.4 L372.9,470.4 L373.5,465.9 L374.9,464.9 L375.9,468.3 L377.2,467.4 L378.1,462.7 L379.5,461.9 L380.2,465.7 L381.5,465 L382.8,460.2 L384.2,459.5 L384.5,463.6 L385.8,463.1 L387.4,458.2 L388.8,457.7 L388.7,462.1 L389.9,461.8 L391.9,456.9 L393.3,456.6 L392.7,461.2 L393.9,461 L396.3,456.2 L397.5,456.1 L396.6,460.8 L397.7,460.9 L400.4,456.2 L401.6,456.3 L400.2,461.1 L401.3,461.3 L404.2,456.8 L405.3,457.1 L403.6,462 L404.6,462.4 L407.7,458.1 L408.7,458.6 L406.7,463.5 L407.5,464 L410.9,460 L411.8,460.7 L409.4,465.5 L410.1,466.2 L413.7,462.5 L414.5,463.4 L411.8,468.1 L412.4,468.9 L416.1,465.6 L416.7,466.6 L413.7,471.1 L414.2,472.2 L418,469.2 L418.4,470.4 L415.2,474.7 L415.6,475.9 L419.4,473.4 L419.7,474.7 L416.3,478.7 L416.6,480 L420.3,478 L420.5,479.4 L417,483.1 L417.1,484.5 L420.8,483 L420.8,484.5 L417.1,487.8 L417.1,489.3 L420.7,488.3 L420.6,490 L416.8,492.9 L416.6,494.4 L420.1,493.9 L419.9,495.6 L416.1,498.1 L415.8,499.7 L419.1,499.7 L418.6,501.5 L414.9,503.5 L414.4,505.1 L417.5,505.7 L416.9,507.5 L413.2,509 L412.6,510.7 L415.5,511.8 L414.8,513.6 L411.1,514.5 L410.5,516.2 L413,517.8 L412.2,519.6 L408.7,520.1 L407.9,521.7 L410.1,523.8 L409.1,525.5 L405.9,525.5 L404.9,527.1Z" fill="#dadada" stroke="#2a2a2a" stroke-width="1.0"/>
<ellipse cx="377.5" cy="512" rx="31.3" ry="56.6" transform="rotate(31 377.5 512)" fill="#bcbcbc" stroke="#555" stroke-width="0.6" />
<ellipse cx="376.5" cy="513" rx="29.4" ry="53.2" transform="rotate(31 376.5 513)" fill="none" stroke="#ececec" stroke-width="2.6" />
<ellipse cx="376" cy="512" rx="26" ry="45.2" transform="rotate(31 376 512)" fill="none" stroke="#333" stroke-width="0.9" />
<ellipse cx="376.5" cy="513" rx="17.1" ry="27.9" transform="rotate(31 376.5 513)" fill="#bcbcbc" stroke="#333" stroke-width="0.9" />
<ellipse cx="377" cy="513" rx="14.4" ry="23.5" transform="rotate(31 377 513)" fill="#c8c8c8" stroke="none" stroke-width="0" />
<ellipse cx="378.7" cy="513.2" rx="11.3" ry="16.7" transform="rotate(31 378.7 513.2)" fill="#a4a4a4" stroke="#222" stroke-width="0.9" />
<path d="M380.5,499.2L390.2,505.1M377.5,500.4L390.6,508.3M375.1,502L390.3,511.1M373.1,503.8L389.6,513.8M371.4,505.8L388.7,516.2M369.9,507.9L387.5,518.5M368.7,510.2L386,520.6M367.8,512.6L384.3,522.6M367.1,515.3L382.3,524.4M366.8,518.1L379.9,526M367.2,521.3L376.9,527.2" stroke="#e4e4e4" stroke-width="1.1" fill="none"/>
<path d="M233.9,616.1 L232.7,618 L228.7,616.9 L227.6,618.5 L229.8,622.3 L228.5,624.1 L224.9,622.3 L223.7,623.8 L225.4,628.2 L224,629.9 L220.8,627.3 L219.5,628.8 L220.6,633.7 L219.1,635.2 L216.4,631.9 L215.1,633.2 L215.6,638.6 L214,640 L211.9,636.1 L210.5,637.2 L210.3,642.9 L208.7,644.1 L207.2,639.6 L205.7,640.6 L205,646.6 L203.4,647.5 L202.4,642.6 L201,643.3 L199.6,649.5 L198,650.3 L197.6,644.9 L196.2,645.4 L194.3,651.7 L192.8,652.2 L193,646.5 L191.6,646.8 L189.1,653.1 L187.6,653.4 L188.4,647.3 L187.1,647.5 L184.2,653.7 L182.7,653.7 L184.1,647.5 L182.9,647.4 L179.5,653.4 L178.1,653.2 L180.1,646.9 L178.9,646.6 L175.1,652.4 L173.9,651.9 L176.3,645.6 L175.3,645.1 L171.1,650.5 L170,649.8 L173,643.6 L172.1,642.9 L167.6,647.9 L166.7,647 L170.1,641 L169.4,640 L164.7,644.6 L163.9,643.4 L167.7,637.7 L167.1,636.5 L162.2,640.5 L161.6,639.2 L165.8,633.8 L165.4,632.5 L160.4,635.8 L160,634.3 L164.5,629.3 L164.2,627.9 L159.2,630.6 L159,628.9 L163.7,624.5 L163.6,622.9 L158.6,624.9 L158.6,623.1 L163.5,619.2 L163.5,617.5 L158.7,618.8 L158.9,616.9 L163.8,613.6 L164.1,611.9 L159.5,612.3 L159.8,610.4 L164.8,607.8 L165.2,606 L160.8,605.7 L161.3,603.7 L166.3,601.8 L166.8,600 L162.8,598.9 L163.5,596.9 L168.3,595.8 L169,594 L165.4,592.2 L166.2,590.1 L170.8,589.7 L171.7,588 L168.5,585.5 L169.5,583.5 L173.8,583.8 L174.8,582.1 L172.1,578.9 L173.3,577 L177.3,578.1 L178.4,576.5 L176.2,572.7 L177.5,570.9 L181.1,572.7 L182.3,571.2 L180.6,566.8 L182,565.1 L185.2,567.7 L186.5,566.2 L185.4,561.3 L186.9,559.8 L189.6,563.1 L190.9,561.8 L190.4,556.4 L192,555 L194.1,558.9 L195.5,557.8 L195.7,552.1 L197.3,550.9 L198.8,555.4 L200.3,554.4 L201,548.4 L202.6,547.5 L203.6,552.4 L205,551.7 L206.4,545.5 L208,544.7 L208.4,550.1 L209.8,549.6 L211.7,543.3 L213.2,542.8 L213,548.5 L214.4,548.2 L216.9,541.9 L218.4,541.6 L217.6,547.7 L218.9,547.5 L221.8,541.3 L223.3,541.3 L221.9,547.5 L223.1,547.6 L226.5,541.6 L227.9,541.8 L225.9,548.1 L227.1,548.4 L230.9,542.6 L232.1,543.1 L229.7,549.4 L230.7,549.9 L234.9,544.5 L236,545.2 L233,551.4 L233.9,552.1 L238.4,547.1 L239.3,548 L235.9,554 L236.6,555 L241.3,550.4 L242.1,551.6 L238.3,557.3 L238.9,558.5 L243.8,554.5 L244.4,555.8 L240.2,561.2 L240.6,562.5 L245.6,559.2 L246,560.7 L241.5,565.7 L241.8,567.1 L246.8,564.4 L247,566.1 L242.3,570.5 L242.4,572.1 L247.4,570.1 L247.4,571.9 L242.5,575.8 L242.5,577.5 L247.3,576.2 L247.1,578.1 L242.2,581.4 L241.9,583.1 L246.5,582.7 L246.2,584.6 L241.2,587.2 L240.8,589 L245.2,589.3 L244.7,591.3 L239.7,593.2 L239.2,595 L243.2,596.1 L242.5,598.1 L237.7,599.2 L237,601 L240.6,602.8 L239.8,604.9 L235.2,605.3 L234.3,607 L237.5,609.5 L236.5,611.5 L232.2,611.2 L231.2,612.9Z" fill="#ececec" stroke="#2a2a2a" stroke-width="1.0"/>
<ellipse cx="203" cy="597.5" rx="32.1" ry="55.1" transform="rotate(31 203 597.5)" fill="#b8b8b8" stroke="#555" stroke-width="0.6" />
<ellipse cx="203" cy="597.5" rx="28.9" ry="49.5" transform="rotate(31 203 597.5)" fill="none" stroke="#333" stroke-width="0.9" />
<ellipse cx="203.5" cy="597.5" rx="27.8" ry="47.6" transform="rotate(31 203.5 597.5)" fill="none" stroke="#d8d8d8" stroke-width="0.8" />
<ellipse cx="202.5" cy="598" rx="17" ry="26.6" transform="rotate(31 202.5 598)" fill="#ffffff" stroke="#222" stroke-width="0.9" />
<polygon points="217.3,623.1 201.3,635.1 197.7,630.3 213.7,618.3" fill="#ececec" stroke="#333" stroke-width="0.7" />
<polygon points="173.5,628.8 170.5,609.1 176.4,608.1 179.4,627.9" fill="#ececec" stroke="#333" stroke-width="0.7" />
<polygon points="188.7,571.9 204.7,559.9 208.3,564.7 192.3,576.7" fill="#ececec" stroke="#333" stroke-width="0.7" />
<polygon points="232.5,566.2 235.5,585.9 229.6,586.9 226.6,567.1" fill="#ececec" stroke="#333" stroke-width="0.7" />
<polyline points="152.5,579.1 150.6,581 148.6,582.7 146.5,584.1 144.5,585.4 142.4,586.4 140.4,587.1 138.4,587.5 136.5,587.7 134.7,587.6 133.1,587.2 131.5,586.6 130.1,585.7 128.9,584.5 127.9,583.1 127,581.4 126.4,579.6 126,577.6 125.8,575.4 125.8,573 126,570.6 126.5,568.1 127.1,565.5 128,562.9 129.1,560.3 130.3,557.7 131.7,555.2 133.3,552.8 135,550.5 136.8,548.3 138.7,546.4 140.7,544.6 142.7,543 144.7,541.7 146.8,540.6 148.8,539.8 150.8,539.2 152.7,538.9 154.6,538.9 156.3,539.2 157.9,539.7 159.3,540.5 160.6,541.6 161.7,542.9 162.7,544.5 163.4,546.3 163.9,548.2 164.2,550.4 164.2,552.7 164.1,555.1 163.7,557.6 163.1,560.1 162.4,562.7 161.4,565.3 160.2,567.9 158.8,570.5 157.3,572.9" fill="none" stroke="#444" stroke-width="4.0" />
<polyline points="152.5,579.1 150.6,581 148.6,582.7 146.5,584.1 144.5,585.4 142.4,586.4 140.4,587.1 138.4,587.5 136.5,587.7 134.7,587.6 133.1,587.2 131.5,586.6 130.1,585.7 128.9,584.5 127.9,583.1 127,581.4 126.4,579.6 126,577.6 125.8,575.4 125.8,573 126,570.6 126.5,568.1 127.1,565.5 128,562.9 129.1,560.3 130.3,557.7 131.7,555.2 133.3,552.8 135,550.5 136.8,548.3 138.7,546.4 140.7,544.6 142.7,543 144.7,541.7 146.8,540.6 148.8,539.8 150.8,539.2 152.7,538.9 154.6,538.9 156.3,539.2 157.9,539.7 159.3,540.5 160.6,541.6 161.7,542.9 162.7,544.5 163.4,546.3 163.9,548.2 164.2,550.4 164.2,552.7 164.1,555.1 163.7,557.6 163.1,560.1 162.4,562.7 161.4,565.3 160.2,567.9 158.8,570.5 157.3,572.9" fill="none" stroke="#c4c4c4" stroke-width="2.2" />
<polyline points="125.9,579.4 125.6,578 125.4,576.5 125.3,574.9 125.4,573.3 125.5,571.6 125.8,569.8 126.1,568.1 126.6,566.3 127.2,564.5 127.8,562.6 128.6,560.8 129.4,559 130.4,557.3 131.4,555.5 132.4,553.8 133.6,552.2 134.8,550.6 136.1,549.1 137.4,547.7 138.7,546.4 140.1,545.2 141.5,544.1 142.9,543.1 144.3,542.2 145.8,541.4 147.2,540.8 148.6,540.3 149.9,539.9 151.3,539.7 152.6,539.6" fill="none" stroke="#444" stroke-width="4.6" />
<polyline points="125.9,579.4 125.6,578 125.4,576.5 125.3,574.9 125.4,573.3 125.5,571.6 125.8,569.8 126.1,568.1 126.6,566.3 127.2,564.5 127.8,562.6 128.6,560.8 129.4,559 130.4,557.3 131.4,555.5 132.4,553.8 133.6,552.2 134.8,550.6 136.1,549.1 137.4,547.7 138.7,546.4 140.1,545.2 141.5,544.1 142.9,543.1 144.3,542.2 145.8,541.4 147.2,540.8 148.6,540.3 149.9,539.9 151.3,539.7 152.6,539.6" fill="none" stroke="#c4c4c4" stroke-width="2.8" />
<rect x="155.8" y="569.5" width="6.4" height="5.6" transform="rotate(-50 159 572.3)" fill="#c8c8c8" stroke="#444" stroke-width="0.8"/>
<ellipse cx="159" cy="572.3" rx="1" ry="1" fill="#f0f0f0" stroke="#444" stroke-width="0.5" />
<rect x="149.6" y="577.7" width="6.4" height="5.6" transform="rotate(-35 152.8 580.5)" fill="#c8c8c8" stroke="#444" stroke-width="0.8"/>
<ellipse cx="152.8" cy="580.5" rx="1" ry="1" fill="#f0f0f0" stroke="#444" stroke-width="0.5" />
<line x1="258.5" y1="602" x2="239.8" y2="624.5" stroke="#2e2e2e" stroke-width="7.4" stroke-linecap="butt"/>
<line x1="258.5" y1="602" x2="239.8" y2="624.5" stroke="#e0e0e0" stroke-width="5.2" stroke-linecap="butt" stroke-dasharray="0.9 0.9"/>
<line x1="280" y1="595.5" x2="292" y2="609" stroke="#2a2a2a" stroke-width="6.6" stroke-linecap="round"/>
<line x1="280" y1="595.5" x2="292" y2="609" stroke="#9c9c9c" stroke-width="4.6" stroke-linecap="round" stroke-dasharray="0.8 0.8"/>
<line x1="286" y1="639.5" x2="267.3" y2="661.5" stroke="#2e2e2e" stroke-width="7.4" stroke-linecap="butt"/>
<line x1="286" y1="639.5" x2="267.3" y2="661.5" stroke="#e0e0e0" stroke-width="5.2" stroke-linecap="butt" stroke-dasharray="0.9 0.9"/>
<line x1="233.5" y1="655.5" x2="245" y2="668" stroke="#2a2a2a" stroke-width="6.6" stroke-linecap="round"/>
<line x1="233.5" y1="655.5" x2="245" y2="668" stroke="#9c9c9c" stroke-width="4.6" stroke-linecap="round" stroke-dasharray="0.8 0.8"/>
<path d="M358.7,688 L357.5,689.9 L353.5,688.7 L352.4,690.3 L354.7,694.1 L353.5,695.8 L349.8,693.9 L348.7,695.4 L350.4,699.8 L349.1,701.4 L345.8,698.8 L344.6,700.2 L345.8,705.1 L344.4,706.6 L341.6,703.3 L340.3,704.6 L341,709.9 L339.5,711.2 L337.2,707.3 L335.8,708.5 L335.9,714.1 L334.4,715.3 L332.6,710.9 L331.2,711.8 L330.7,717.8 L329.2,718.7 L328,713.8 L326.6,714.6 L325.5,720.8 L323.9,721.5 L323.3,716.2 L321.9,716.7 L320.3,723 L318.7,723.6 L318.7,717.9 L317.4,718.2 L315.2,724.6 L313.6,724.9 L314.2,718.9 L312.9,719.1 L310.2,725.4 L308.7,725.5 L309.9,719.3 L308.7,719.3 L305.5,725.4 L304.1,725.3 L305.8,719 L304.6,718.8 L301,724.7 L299.8,724.3 L302,718 L300.9,717.6 L296.9,723.2 L295.8,722.6 L298.6,716.3 L297.6,715.7 L293.2,721 L292.2,720.2 L295.5,714.1 L294.6,713.3 L290,718.1 L289.1,717.1 L292.8,711.2 L292.1,710.2 L287.3,714.5 L286.6,713.3 L290.6,707.7 L290.1,706.6 L285.1,710.3 L284.6,708.9 L288.9,703.7 L288.5,702.4 L283.5,705.6 L283.1,704 L287.7,699.2 L287.5,697.8 L282.4,700.3 L282.3,698.6 L287.1,694.4 L287,692.9 L282,694.6 L282,692.9 L287,689.2 L287,687.6 L282.2,688.6 L282.4,686.8 L287.4,683.7 L287.6,682 L283,682.3 L283.3,680.4 L288.4,678 L288.8,676.3 L284.3,675.9 L284.9,673.9 L289.8,672.2 L290.4,670.4 L286.3,669.3 L287,667.3 L291.8,666.4 L292.5,664.6 L288.8,662.7 L289.7,660.8 L294.3,660.5 L295.1,658.8 L291.8,656.3 L292.8,654.4 L297.2,654.8 L298.2,653.2 L295.3,650 L296.5,648.1 L300.5,649.3 L301.6,647.7 L299.3,643.9 L300.5,642.2 L304.2,644.1 L305.3,642.6 L303.6,638.2 L304.9,636.6 L308.2,639.2 L309.4,637.8 L308.2,632.9 L309.6,631.4 L312.4,634.7 L313.7,633.4 L313,628.1 L314.5,626.8 L316.8,630.7 L318.2,629.5 L318.1,623.9 L319.6,622.7 L321.4,627.1 L322.8,626.2 L323.3,620.2 L324.8,619.3 L326,624.2 L327.4,623.4 L328.5,617.2 L330.1,616.5 L330.7,621.8 L332.1,621.3 L333.7,615 L335.3,614.4 L335.3,620.1 L336.6,619.8 L338.8,613.4 L340.4,613.1 L339.8,619.1 L341.1,618.9 L343.8,612.6 L345.3,612.5 L344.1,618.7 L345.3,618.7 L348.5,612.6 L349.9,612.7 L348.2,619 L349.4,619.2 L353,613.3 L354.2,613.7 L352,620 L353.1,620.4 L357.1,614.8 L358.2,615.4 L355.4,621.7 L356.4,622.3 L360.8,617 L361.8,617.8 L358.5,623.9 L359.4,624.7 L364,619.9 L364.9,620.9 L361.2,626.8 L361.9,627.8 L366.7,623.5 L367.4,624.7 L363.4,630.3 L363.9,631.4 L368.9,627.7 L369.4,629.1 L365.1,634.3 L365.5,635.6 L370.5,632.4 L370.9,634 L366.3,638.8 L366.5,640.2 L371.6,637.7 L371.7,639.4 L366.9,643.6 L367,645.1 L372,643.4 L372,645.1 L367,648.8 L367,650.4 L371.8,649.4 L371.6,651.2 L366.6,654.3 L366.4,656 L371,655.7 L370.7,657.6 L365.6,660 L365.2,661.7 L369.7,662.1 L369.1,664.1 L364.2,665.8 L363.6,667.6 L367.7,668.7 L367,670.7 L362.2,671.6 L361.5,673.4 L365.2,675.3 L364.3,677.2 L359.7,677.5 L358.9,679.2 L362.2,681.7 L361.2,683.6 L356.8,683.2 L355.8,684.8Z" fill="#ececec" stroke="#2a2a2a" stroke-width="1.0"/>
<ellipse cx="327" cy="669" rx="32.9" ry="55.2" transform="rotate(31 327 669)" fill="#b9b9b9" stroke="#555" stroke-width="0.6" />
<ellipse cx="327" cy="669" rx="29.6" ry="49.7" transform="rotate(31 327 669)" fill="none" stroke="#555" stroke-width="0.7" />
<ellipse cx="328" cy="669" rx="25.1" ry="43.4" transform="rotate(31 328 669)" fill="#bababa" stroke="#333" stroke-width="0.8" />
<ellipse cx="332" cy="669" rx="14.8" ry="20.5" transform="rotate(31 332 669)" fill="#eeeeee" stroke="none" stroke-width="0" />
<ellipse cx="333.5" cy="671.5" rx="11.1" ry="16.1" transform="rotate(31 333.5 671.5)" fill="#ffffff" stroke="#222" stroke-width="0.9" />
<ellipse cx="334.5" cy="672" rx="8.1" ry="12.4" transform="rotate(31 334.5 672)" fill="#fdfdfd" stroke="#222" stroke-width="0.8" />
<line x1="328" y1="673" x2="340" y2="670.5" stroke="#333" stroke-width="0.8" />
<line x1="329" y1="678" x2="340" y2="675.5" stroke="#333" stroke-width="0.8" />
<ellipse cx="357.5" cy="653" rx="1.6" ry="2.6" transform="rotate(31 357.5 653)" fill="#fff" stroke="#333" stroke-width="0.6" />
<polygon points="365.5,707 364.6,706.3 363.8,705.4 363.2,704.4 362.8,703.1 362.5,701.7 362.4,700.2 362.5,698.6 362.7,696.9 363.2,695.2 363.8,693.4 364.5,691.7 365.5,690.1 366.5,688.5 367.6,687 368.9,685.7 370.2,684.5 371.6,683.4 372.9,682.6 374.3,682 375.7,681.6 377,681.4 378.3,681.4 379.4,681.7 380.5,682.2 382,683.1 382.9,683.8 383.7,684.7 384.3,685.7 384.7,687 385,688.4 385.1,689.9 385,691.5 384.8,693.2 384.3,694.9 383.7,696.7 383,698.4 382,700 381,701.6 379.9,703.1 378.6,704.4 377.3,705.6 375.9,706.7 374.6,707.5 373.2,708.1 371.8,708.5 370.5,708.7 369.2,708.7 368.1,708.4 367,707.9" fill="#c8c8c8" stroke="#222" stroke-width="0.9" />
<ellipse cx="374.5" cy="695.5" rx="8.8" ry="14.5" transform="rotate(31 374.5 695.5)" fill="#d6d6d6" stroke="#222" stroke-width="0.9" />
<ellipse cx="374.5" cy="695.5" rx="2.5" ry="4.1" transform="rotate(31 374.5 695.5)" fill="#f8f8f8" stroke="#222" stroke-width="0.7200000000000001" />
<polygon points="400.6,715.7 400.2,715.5 399.9,715.2 399.6,714.8 399.4,714.3 399.3,713.8 399.2,713.3 399.2,712.7 399.2,712.2 399.3,711.6 399.5,711 399.8,710.4 400.1,709.8 400.4,709.3 400.8,708.8 401.2,708.3 401.7,707.9 402.1,707.6 402.6,707.3 403.1,707.1 403.6,707 404.1,706.9 404.6,707 405,707.1 405.4,707.3 428.9,720.8 429.3,721 429.6,721.3 429.9,721.7 430.1,722.2 430.2,722.7 430.3,723.2 430.3,723.8 430.3,724.3 430.2,724.9 430,725.5 429.7,726.1 429.4,726.7 429.1,727.2 428.7,727.7 428.3,728.2 427.8,728.6 427.4,728.9 426.9,729.2 426.4,729.4 425.9,729.5 425.4,729.6 424.9,729.5 424.5,729.4 424.1,729.2" fill="#f2f2f2" stroke="#222" stroke-width="0.8" />
<ellipse cx="426.5" cy="725" rx="3.4" ry="4.9" transform="rotate(29.9 426.5 725)" fill="#f6f6f6" stroke="#222" stroke-width="0.8" />
<polygon points="392.3,715.9 391.7,715.5 391.2,714.9 390.7,714.3 390.4,713.5 390.2,712.7 390.1,711.8 390.1,710.8 390.2,709.8 390.4,708.8 390.7,707.7 391.1,706.7 391.6,705.7 392.2,704.8 392.9,703.9 393.6,703.1 394.4,702.4 395.2,701.8 396,701.3 396.9,701 397.7,700.7 398.5,700.6 399.3,700.7 400,700.8 400.7,701.1 404.2,703.1 404.8,703.5 405.3,704.1 405.8,704.7 406.1,705.5 406.3,706.3 406.4,707.2 406.4,708.2 406.3,709.2 406.1,710.2 405.8,711.3 405.4,712.3 404.9,713.3 404.3,714.2 403.6,715.1 402.9,715.9 402.1,716.6 401.3,717.2 400.5,717.7 399.6,718 398.8,718.3 398,718.4 397.2,718.3 396.5,718.2 395.8,717.9" fill="#c0c0c0" stroke="#222" stroke-width="0.8" />
<ellipse cx="400" cy="710.5" rx="5.6" ry="8.5" transform="rotate(29.7 400 710.5)" fill="#cacaca" stroke="#222" stroke-width="0.8" />
<polygon points="387,709.7 386.6,709.4 386.2,709 385.9,708.6 385.7,708 385.5,707.4 385.4,706.8 385.4,706.1 385.5,705.4 385.7,704.7 385.9,703.9 386.2,703.2 386.5,702.5 386.9,701.9 387.4,701.2 387.9,700.7 388.5,700.2 389.1,699.8 389.6,699.4 390.2,699.2 390.8,699 391.4,698.9 392,699 392.5,699.1 393,699.3 400,703.3 400.4,703.6 400.8,704 401.1,704.4 401.3,705 401.5,705.6 401.6,706.2 401.6,706.9 401.5,707.6 401.3,708.3 401.1,709.1 400.8,709.8 400.5,710.5 400.1,711.1 399.6,711.8 399.1,712.3 398.5,712.8 397.9,713.2 397.4,713.6 396.8,713.8 396.2,714 395.6,714.1 395,714 394.5,713.9 394,713.7" fill="#e6e6e6" stroke="#222" stroke-width="0.8" />
<ellipse cx="397" cy="708.5" rx="4" ry="6" transform="rotate(29.7 397 708.5)" fill="#ececec" stroke="#222" stroke-width="0.8" />
<polygon points="424.5,771.8 424.1,771.5 423.7,771.2 423.5,770.8 423.3,770.3 423.1,769.8 423,769.3 423,768.7 423,768.1 423.2,767.5 423.3,766.9 423.6,766.3 423.9,765.7 424.3,765.1 424.7,764.6 425.1,764.2 425.6,763.8 426.1,763.4 426.6,763.2 427.1,763 427.6,762.9 428.2,762.8 428.6,762.9 429.1,763 429.5,763.2 438,768.2 438.4,768.5 438.8,768.8 439,769.2 439.2,769.7 439.4,770.2 439.5,770.7 439.5,771.3 439.5,771.9 439.3,772.5 439.2,773.1 438.9,773.7 438.6,774.3 438.2,774.9 437.8,775.4 437.4,775.8 436.9,776.2 436.4,776.6 435.9,776.8 435.4,777 434.9,777.1 434.3,777.2 433.9,777.1 433.4,777 433,776.8" fill="#ececec" stroke="#222" stroke-width="0.8" />
<ellipse cx="435.5" cy="772.5" rx="3.6" ry="5" transform="rotate(30.5 435.5 772.5)" fill="#f4f4f4" stroke="#222" stroke-width="0.8" />
<polygon points="636.4,560.4 620.4,562.8 609,574 600,590 588,602.8 576,620 558,639 547,660 540.2,676 540.2,690 544,711.8 552,721.5 568.5,732 585,742 620,730 660,690 680,620 665,570 650,561" fill="#eeeeee" stroke="#222" stroke-width="0.9" />
<polygon points="465,579.6 464.2,579.1 463.5,578.3 463,577.3 462.6,576 462.4,574.7 462.4,573.1 462.5,571.4 462.8,569.7 463.3,567.8 463.9,566 464.7,564.1 465.5,562.2 466.5,560.5 467.6,558.8 468.8,557.2 470,555.7 471.3,554.5 472.6,553.4 473.9,552.5 475.1,551.9 476.3,551.5 477.5,551.3 478.5,551.4 479.4,551.8 538.2,582.3 539,582.8 539.7,583.6 540.2,584.6 540.6,585.9 540.8,587.2 540.8,588.8 540.7,590.5 540.4,592.2 539.9,594.1 539.3,595.9 538.5,597.8 537.7,599.7 536.7,601.4 535.6,603.1 534.4,604.7 533.2,606.2 531.9,607.4 530.6,608.5 529.3,609.4 528.1,610 526.9,610.4 525.7,610.6 524.7,610.5 523.8,610.1" fill="#f0f0f0" stroke="#222" stroke-width="1.0" />
<path d="M476,551.6L537.6,583.5M473.3,552.9L536.5,585.6M471.3,554.5L535.4,587.8M469.6,556.3L534.3,589.9M468,558.2L533.2,592M466.7,560.2L532.1,594.1M465.5,562.2L531,596.2M464.5,564.4L529.9,598.3M463.7,566.6L528.8,600.4M463,569L527.7,602.5M462.5,571.4L526.6,604.6M462.4,574L525.5,606.8M462.9,576.9L524.4,608.9" stroke="#666" stroke-width="0.6" fill="none"/>
<polyline points="495.8,596.2 495,595.6 494.3,594.8 493.8,593.8 493.5,592.5 493.3,591.1 493.3,589.5 493.4,587.8 493.8,586 494.3,584.1 494.9,582.2 495.7,580.3 496.6,578.4 497.6,576.5 498.8,574.8 500,573.1 501.2,571.6 502.5,570.3 503.8,569.2 505.1,568.3 506.4,567.6 507.6,567.2 508.8,567 509.8,567.1 510.7,567.4" fill="none" stroke="#222" stroke-width="0.9" />
<polygon points="494.4,609.8 508.8,601.8 526.4,593.8 534.4,582.6 544,566.6 555.2,555.4 569.6,545.8 584,539.4 598.4,536.5 608,537.8 617.6,542.6 623.2,550.6 624.8,560.2 600,598 585,612 576,622.5 558,639 547.5,663 540.5,676 540.7,690 544.5,711.8 540,711.8 523.5,706.5 508.5,696 496.5,684 489,669 486.7,649.5 489,630 493.5,609" fill="#b8b8b8" stroke="#222" stroke-width="1.0" />
<polygon points="493.5,609 494.4,609.8 508.8,601.8 526.4,593.8 534.4,582.6 544,566.6 555.2,555.4 569.6,545.8 584,539.4 598.4,536.5 608,537.8 617.6,542.6 623.2,550.6 624,555 617,547 605,544 590,546 580,552 570,563 560,578 550,598 546,606 540.8,608 530,614 520,618 507,620" fill="#f3f3f3" stroke="none" stroke-width="0" />
<polyline points="624,555 617,547 605,544 590,546 580,552 570,563 560,578 550,598 546,606" fill="none" stroke="#555" stroke-width="0.7" />
<polyline points="507,620 520,618 530,614 540.8,608" fill="none" stroke="#777" stroke-width="0.6" />
<polygon points="493.5,609 507,620 504,637.5 504,651 507,669 511.5,690 515,700 508.5,696 496.5,684 489,669 486.7,649.5 489,630" fill="#eeeeee" stroke="none" stroke-width="0" />
<polyline points="507,620 504,637.5 504,651 507,669 511.5,690 514,699" fill="none" stroke="#666" stroke-width="0.6" />
<defs><linearGradient id="gUp" gradientUnits="userSpaceOnUse" x1="0" y1="612" x2="0" y2="650"><stop offset="0" stop-color="#c4c4c4"/><stop offset="1" stop-color="#dddddd"/></linearGradient></defs>
<polygon points="507,621 530,615 546,607 560,620 568,634 552,645 505,651 504,637.5" fill="url(#gUp)" stroke="none" stroke-width="0" />
<polygon points="505,651 552,645 566,636 556,652 506,658" fill="#e6e6e6" stroke="none" stroke-width="0" />
<line x1="506" y1="658" x2="548" y2="651" stroke="#999" stroke-width="0.5" />
<polygon points="546,606 550,598 560,578 570,563 580,552 590,546 605,544 617,547 624,555 624,560 617,562 610,566 600,580 585,600 574,615 560,620" fill="#bcbcbc" stroke="none" stroke-width="0" />
<ellipse cx="589" cy="584" rx="18" ry="32" transform="rotate(31 589 584)" fill="none" stroke="#888" stroke-width="0.6" />
<ellipse cx="589" cy="584" rx="16.5" ry="30.5" transform="rotate(31 589 584)" fill="#e6e6e6" stroke="none" stroke-width="0" />
<ellipse cx="591" cy="582" rx="12" ry="25" transform="rotate(31 591 582)" fill="#f6f6f6" stroke="none" stroke-width="0" />
<ellipse cx="593" cy="580" rx="7" ry="18" transform="rotate(31 593 580)" fill="#ffffff" stroke="none" stroke-width="0" />
<polygon points="625,560 617,562 610,566 600,580 585,600 574,615 566,628 575,640 640,600 660,565 645,558" fill="#efefef" stroke="none" stroke-width="0" />
<polyline points="626,559.5 617,562 610,566 600,580 585,600 574,615 566,628" fill="none" stroke="#222" stroke-width="0.8" />
<text x="0" y="0" transform="translate(565.5,557.5) rotate(127)" font-family="Liberation Sans, sans-serif" font-size="8.6" font-weight="bold" fill="#222">3024031</text>
<path d="M674.2,686.1 L670.3,691.9 L668.2,690.9 L664.2,696.3 L665.3,698.8 L660.9,704.1 L659.1,702.6 L654.8,707.5 L655.4,710.3 L650.7,715.1 L649.3,713 L644.7,717.3 L644.9,720.4 L640,724.4 L638.9,722 L634.2,725.5 L633.9,728.9 L628.9,732.1 L628.3,729.2 L623.5,731.9 L622.8,735.4 L617.8,737.7 L617.7,734.5 L613,736.3 L611.8,740 L607,741.3 L607.3,737.9 L602.8,738.7 L601.2,742.3 L596.6,742.7 L597.4,739.1 L593.2,738.9 L591.3,742.5 L587.1,741.8 L588.3,738.2 L584.5,737.1 L582.3,740.4 L578.6,738.8 L580.2,735.1 L576.9,733.1 L574.4,736.2 L571.2,733.6 L573.2,730.1 L570.5,727.2 L567.8,729.9 L565.3,726.5 L567.6,723.1 L565.5,719.4 L562.7,721.7 L560.9,717.5 L563.5,714.4 L562.1,710 L559.2,711.8 L558.2,706.9 L560.9,704.2 L560.3,699.1 L557.4,700.5 L557.2,695 L560,692.7 L560.2,687.2 L557.4,687.9 L557.9,682 L560.8,680.2 L561.7,674.3 L559.1,674.5 L560.4,668.3 L563.3,667 L564.9,660.9 L562.5,660.6 L564.5,654.2 L567.3,653.5 L569.6,647.4 L567.5,646.4 L570.2,640.1 L572.8,639.9 L575.8,633.9 L573.9,632.4 L577.3,626.3 L579.7,626.7 L583.2,620.9 L581.8,618.9 L585.7,613.1 L587.8,614.1 L591.8,608.7 L590.7,606.2 L595.1,600.9 L596.9,602.4 L601.2,597.5 L600.6,594.7 L605.3,589.9 L606.7,592 L611.3,587.7 L611.1,584.6 L616,580.6 L617.1,583 L621.8,579.5 L622.1,576.1 L627.1,572.9 L627.7,575.8 L632.5,573.1 L633.2,569.6 L638.2,567.3 L638.3,570.5 L643,568.7 L644.2,565 L649,563.7 L648.7,567.1 L653.2,566.3 L654.8,562.7 L659.4,562.3 L658.6,565.9 L662.8,566.1 L664.7,562.5 L668.9,563.2 L667.7,566.8 L671.5,567.9 L673.7,564.6 L677.4,566.2 L675.8,569.9 L679.1,571.9 L681.6,568.8 L684.8,571.4 L682.8,574.9 L685.5,577.8 L688.2,575.1 L690.7,578.5 L688.4,581.9 L690.5,585.6 L693.3,583.3 L695.1,587.5 L692.5,590.6 L693.9,595 L696.8,593.2 L697.8,598.1 L695.1,600.8 L695.7,605.9 L698.6,604.5 L698.8,610 L696,612.3 L695.8,617.8 L698.6,617.1 L698.1,623 L695.2,624.8 L694.3,630.7 L696.9,630.5 L695.6,636.7 L692.7,638 L691.1,644.1 L693.5,644.4 L691.5,650.8 L688.7,651.5 L686.4,657.6 L688.5,658.6 L685.8,664.9 L683.2,665.1 L680.2,671.1 L682.1,672.6 L678.7,678.7 L676.3,678.3 L672.8,684.1Z" fill="#bababa" stroke="#222" stroke-width="0.9"/>
<ellipse cx="629.9" cy="655.2" rx="34.2" ry="55.5" transform="rotate(29 629.9 655.2)" fill="#bdbdbd" stroke="#333" stroke-width="0.8" />
<ellipse cx="608.4" cy="609.2" rx="4.3" ry="7.8" transform="rotate(41 608.4 609.2)" fill="#f6f6f6" stroke="#222" stroke-width="0.9" />
<ellipse cx="624.4" cy="596.4" rx="4.3" ry="7.8" transform="rotate(41 624.4 596.4)" fill="#f6f6f6" stroke="#222" stroke-width="0.9" />
<ellipse cx="640.4" cy="588.4" rx="4.3" ry="7.8" transform="rotate(41 640.4 588.4)" fill="#f6f6f6" stroke="#222" stroke-width="0.9" />
<ellipse cx="665.2" cy="588.4" rx="4.3" ry="7.8" transform="rotate(41 665.2 588.4)" fill="#f6f6f6" stroke="#222" stroke-width="0.9" />
<ellipse cx="675.6" cy="596.4" rx="4.3" ry="7.8" transform="rotate(41 675.6 596.4)" fill="#f6f6f6" stroke="#222" stroke-width="0.9" />
<ellipse cx="681.2" cy="610" rx="4.3" ry="7.8" transform="rotate(41 681.2 610)" fill="#f6f6f6" stroke="#222" stroke-width="0.9" />
<ellipse cx="642.8" cy="614.8" rx="4.3" ry="5.8" transform="rotate(39 642.8 614.8)" fill="#e0e0e0" stroke="#333" stroke-width="0.8" />
<ellipse cx="642.8" cy="614.8" rx="2.2" ry="3.2" transform="rotate(39 642.8 614.8)" fill="#fff" stroke="#333" stroke-width="0.6" />
<ellipse cx="650" cy="596" rx="1.6" ry="2.8" transform="rotate(39 650 596)" fill="#fff" stroke="#333" stroke-width="0.6" />
<ellipse cx="588" cy="655" rx="1.6" ry="2.8" transform="rotate(39 588 655)" fill="#fff" stroke="#333" stroke-width="0.6" />
<ellipse cx="612" cy="702" rx="1.6" ry="2.8" transform="rotate(39 612 702)" fill="#fff" stroke="#333" stroke-width="0.6" />
<ellipse cx="608" cy="715" rx="1.6" ry="2.8" transform="rotate(39 608 715)" fill="#fff" stroke="#333" stroke-width="0.6" />
<ellipse cx="628" cy="656" rx="17" ry="30" transform="rotate(29 628 656)" fill="#d0d0d0" stroke="#555" stroke-width="0.6" />
<polygon points="616.8,681.1 615.1,679.9 613.6,678.3 612.5,676.4 611.6,674.1 611,671.5 610.8,668.7 610.8,665.6 611.3,662.4 612,659.2 613,655.8 614.4,652.6 616,649.3 617.8,646.3 619.8,643.4 622.1,640.7 624.4,638.3 626.9,636.2 629.4,634.5 631.9,633.2 634.4,632.3 636.8,631.8 639.1,631.7 641.2,632.1 643.2,632.9 665.2,644.9 666.9,646.1 668.4,647.7 669.5,649.6 670.4,651.9 671,654.5 671.2,657.3 671.2,660.4 670.7,663.6 670,666.8 669,670.2 667.6,673.4 666,676.7 664.2,679.7 662.2,682.6 659.9,685.3 657.6,687.7 655.1,689.8 652.6,691.5 650.1,692.8 647.6,693.7 645.2,694.2 642.9,694.3 640.8,693.9 638.8,693.1" fill="#f6f6f6" stroke="#222" stroke-width="0.8" />
<path d="M668.5,677.9 L668.1,678.8 L667.6,679.6 L666,679.5 L665.5,680.3 L665,681 L665.4,682.8 L664.8,683.6 L664.2,684.4 L662.9,683.7 L662.4,684.4 L661.8,685 L661.7,687.1 L661.1,687.8 L660.4,688.4 L659.5,687.2 L658.9,687.7 L658.3,688.2 L657.8,690.5 L657.1,691 L656.4,691.4 L655.9,689.8 L655.3,690.1 L654.7,690.4 L653.8,692.8 L653.1,693 L652.5,693.3 L652.4,691.3 L651.8,691.4 L651.2,691.5 L650,693.8 L649.4,693.9 L648.8,693.9 L649.1,691.6 L648.6,691.5 L648.1,691.5 L646.6,693.5 L646.1,693.4 L645.6,693.2 L646.3,690.8 L645.9,690.5 L645.5,690.3 L643.8,692 L643.4,691.6 L643.1,691.2 L644.1,688.8 L643.8,688.4 L643.6,688 L641.8,689.3 L641.5,688.7 L641.3,688.1 L642.7,685.9 L642.5,685.3 L642.4,684.7 L640.7,685.5 L640.6,684.8 L640.5,684.1 L642.1,682.1 L642.1,681.4 L642.1,680.7 L640.5,680.9 L640.5,680.1 L640.6,679.3 L642.4,677.7 L642.5,676.9 L642.7,676.2 L641.3,675.8 L641.5,674.9 L641.7,674 L643.5,673 L643.8,672.1 L644,671.3 L642.9,670.4 L643.3,669.5 L643.7,668.6 L645.4,668.1 L645.8,667.3 L646.2,666.5 L645.5,665.1 L645.9,664.2 L646.4,663.4 L648,663.5 L648.5,662.7 L649,662 L648.6,660.2 L649.2,659.4 L649.8,658.6 L651.1,659.3 L651.6,658.6 L652.2,658 L652.3,655.9 L652.9,655.2 L653.6,654.6 L654.5,655.8 L655.1,655.3 L655.7,654.8 L656.2,652.5 L656.9,652 L657.6,651.6 L658.1,653.2 L658.7,652.9 L659.3,652.6 L660.2,650.2 L660.9,650 L661.5,649.7 L661.6,651.7 L662.2,651.6 L662.8,651.5 L664,649.2 L664.6,649.1 L665.2,649.1 L664.9,651.4 L665.4,651.5 L665.9,651.5 L667.4,649.5 L667.9,649.6 L668.4,649.8 L667.7,652.2 L668.1,652.5 L668.5,652.7 L670.2,651 L670.6,651.4 L670.9,651.8 L669.9,654.2 L670.2,654.6 L670.4,655 L672.2,653.7 L672.5,654.3 L672.7,654.9 L671.3,657.1 L671.5,657.7 L671.6,658.3 L673.3,657.5 L673.4,658.2 L673.5,658.9 L671.9,660.9 L671.9,661.6 L671.9,662.3 L673.5,662.1 L673.5,662.9 L673.4,663.7 L671.6,665.3 L671.5,666.1 L671.3,666.8 L672.7,667.2 L672.5,668.1 L672.3,669 L670.5,670 L670.2,670.9 L670,671.7 L671.1,672.6 L670.7,673.5 L670.3,674.4 L668.6,674.9 L668.2,675.7 L667.8,676.5Z" fill="#e4e4e4" stroke="#222" stroke-width="0.8"/>
<path d="M677.3,685.5 L676.8,686.3 L676.2,687.1 L674.8,686.8 L674.3,687.5 L673.7,688.2 L673.9,690.2 L673.3,690.9 L672.7,691.6 L671.5,690.8 L671,691.3 L670.4,691.9 L670.1,694.1 L669.4,694.7 L668.8,695.2 L668,693.9 L667.4,694.3 L666.8,694.7 L666.1,697.1 L665.4,697.5 L664.8,697.8 L664.4,696 L663.8,696.3 L663.2,696.5 L662.2,698.9 L661.5,699 L660.9,699.2 L661,697 L660.4,697.1 L659.9,697.1 L658.5,699.4 L658,699.3 L657.4,699.2 L657.9,696.9 L657.4,696.8 L657,696.6 L655.4,698.6 L654.9,698.3 L654.5,698 L655.3,695.6 L655,695.3 L654.6,694.9 L652.9,696.5 L652.5,696 L652.2,695.6 L653.4,693.2 L653.2,692.7 L653,692.2 L651.2,693.3 L651,692.7 L650.9,692 L652.4,689.9 L652.3,689.3 L652.2,688.6 L650.5,689.2 L650.4,688.4 L650.4,687.6 L652.1,685.9 L652.2,685.1 L652.2,684.4 L650.7,684.3 L650.8,683.5 L651,682.6 L652.7,681.3 L652.9,680.5 L653.1,679.7 L651.9,679.1 L652.1,678.2 L652.4,677.3 L654.2,676.4 L654.5,675.6 L654.8,674.8 L653.9,673.7 L654.3,672.8 L654.8,671.9 L656.4,671.6 L656.8,670.9 L657.3,670.1 L656.7,668.5 L657.2,667.7 L657.8,666.9 L659.2,667.2 L659.7,666.5 L660.3,665.8 L660.1,663.8 L660.7,663.1 L661.3,662.4 L662.5,663.2 L663,662.7 L663.6,662.1 L663.9,659.9 L664.6,659.3 L665.2,658.8 L666,660.1 L666.6,659.7 L667.2,659.3 L667.9,656.9 L668.6,656.5 L669.2,656.2 L669.6,658 L670.2,657.7 L670.8,657.5 L671.8,655.1 L672.5,655 L673.1,654.8 L673,657 L673.6,656.9 L674.1,656.9 L675.5,654.6 L676,654.7 L676.6,654.8 L676.1,657.1 L676.6,657.2 L677,657.4 L678.6,655.4 L679.1,655.7 L679.5,656 L678.7,658.4 L679,658.7 L679.4,659.1 L681.1,657.5 L681.5,658 L681.8,658.4 L680.6,660.8 L680.8,661.3 L681,661.8 L682.8,660.7 L683,661.3 L683.1,662 L681.6,664.1 L681.7,664.7 L681.8,665.4 L683.5,664.8 L683.6,665.6 L683.6,666.4 L681.9,668.1 L681.8,668.9 L681.8,669.6 L683.3,669.7 L683.2,670.5 L683,671.4 L681.3,672.7 L681.1,673.5 L680.9,674.3 L682.1,674.9 L681.9,675.8 L681.6,676.7 L679.8,677.6 L679.5,678.4 L679.2,679.2 L680.1,680.3 L679.7,681.2 L679.2,682.1 L677.6,682.4 L677.2,683.1 L676.7,683.9Z" fill="#e8e8e8" stroke="#222" stroke-width="0.8"/>
<polygon points="663.6,698.8 662.2,697.9 661,696.7 660,695.2 659.3,693.5 658.7,691.5 658.5,689.3 658.4,687 658.6,684.6 659.1,682 659.8,679.5 660.7,676.9 661.8,674.4 663.1,672 664.6,669.7 666.3,667.6 668,665.8 669.8,664.1 671.7,662.8 673.6,661.7 675.5,660.9 677.4,660.5 679.2,660.4 680.9,660.6 682.4,661.2 688.4,664.2 689.8,665.1 691,666.3 692,667.8 692.7,669.5 693.3,671.5 693.5,673.7 693.6,676 693.4,678.4 692.9,681 692.2,683.5 691.3,686.1 690.2,688.6 688.9,691 687.4,693.3 685.7,695.4 684,697.2 682.2,698.9 680.3,700.2 678.4,701.3 676.5,702.1 674.6,702.5 672.8,702.6 671.1,702.4 669.6,701.8" fill="#d4d4d4" stroke="#222" stroke-width="0.8" />
<ellipse cx="679" cy="683" rx="12.5" ry="21" transform="rotate(26.6 679 683)" fill="#dcdcdc" stroke="#222" stroke-width="0.8" />
<ellipse cx="680" cy="684" rx="10.5" ry="18.5" transform="rotate(29 680 684)" fill="#f8f8f8" stroke="none" stroke-width="0" />
<polygon points="673.8,698.6 672.9,697.9 672.1,697.1 671.5,696 671.1,694.8 670.8,693.4 670.7,691.9 670.8,690.3 671,688.6 671.4,686.9 672,685.2 672.7,683.5 673.6,681.8 674.6,680.2 675.7,678.7 676.9,677.3 678.2,676.1 679.5,675 680.9,674.1 682.2,673.4 683.5,673 684.8,672.8 686,672.7 687.2,673 688.2,673.4 709.2,685.4 710.1,686.1 710.9,686.9 711.5,688 711.9,689.2 712.2,690.6 712.3,692.1 712.2,693.7 712,695.4 711.6,697.1 711,698.8 710.3,700.5 709.4,702.2 708.4,703.8 707.3,705.3 706.1,706.7 704.8,707.9 703.5,709 702.1,709.9 700.8,710.6 699.5,711 698.2,711.2 697,711.3 695.8,711 694.8,710.6" fill="#f6f6f6" stroke="#222" stroke-width="0.8" />
<ellipse cx="702" cy="698" rx="8.5" ry="14.5" transform="rotate(29.7 702 698)" fill="#d0d0d0" stroke="#222" stroke-width="0.8" />
<polygon points="696.1,706.2 695.4,705.7 694.8,705.1 694.4,704.4 694,703.5 693.8,702.5 693.7,701.5 693.7,700.4 693.8,699.2 694.1,698 694.4,696.8 694.9,695.6 695.5,694.4 696.2,693.3 697,692.3 697.8,691.3 698.7,690.5 699.6,689.7 700.6,689.2 701.5,688.7 702.5,688.4 703.4,688.3 704.3,688.3 705.1,688.5 705.9,688.8 721.9,697.8 722.6,698.3 723.2,698.9 723.6,699.6 724,700.5 724.2,701.5 724.3,702.5 724.3,703.6 724.2,704.8 723.9,706 723.6,707.2 723.1,708.4 722.5,709.6 721.8,710.7 721,711.7 720.2,712.7 719.3,713.5 718.4,714.3 717.4,714.8 716.5,715.3 715.5,715.6 714.6,715.7 713.7,715.7 712.9,715.5 712.1,715.2" fill="#dcdcdc" stroke="#222" stroke-width="0.8" />
<path d="M705,690.2L721,699.2M704.2,691.7L720.2,700.7M703.4,693.1L719.4,702.1M702.6,694.6L718.6,703.6M701.8,696L717.8,705M701,697.5L717,706.5M700.2,699L716.2,708M699.4,700.4L715.4,709.4M698.6,701.9L714.6,710.9M697.8,703.3L713.8,712.3M697,704.8L713,713.8" stroke="#555" stroke-width="0.55" fill="none"/>
<ellipse cx="717" cy="706.5" rx="6.3" ry="10" transform="rotate(29 717 706.5)" fill="#ececec" stroke="#222" stroke-width="0.8" />
<ellipse cx="717" cy="706.5" rx="3.6" ry="5.6" transform="rotate(29 717 706.5)" fill="#fff" stroke="#222" stroke-width="0.8" />
<polygon points="640,454.5 640.1,454.3 640.3,454.1 640.5,453.9 640.9,453.7 641.2,453.6 641.7,453.5 642.1,453.5 642.6,453.5 643.1,453.6 643.7,453.7 644.2,453.8 644.7,454 645.2,454.2 645.7,454.4 646.2,454.7 646.7,455 647,455.3 647.4,455.6 647.7,455.9 647.9,456.2 648,456.6 648.1,456.9 648.1,457.2 648,457.5 634.9,494 634.8,494.3 634.6,494.5 634.3,494.7 634,494.9 633.6,495 633.2,495 632.8,495.1 632.3,495.1 631.8,495 631.2,494.9 630.7,494.8 630.2,494.6 629.6,494.4 629.1,494.2 628.7,493.9 628.2,493.6 627.8,493.3 627.5,493 627.2,492.7 627,492.3 626.9,492 626.8,491.7 626.8,491.4 626.8,491.1" fill="#ececec" stroke="#222" stroke-width="0.8" />
<ellipse cx="630.9" cy="492.6" rx="2.1" ry="4.3" transform="rotate(109.7 630.9 492.6)" fill="#f2f2f2" stroke="#222" stroke-width="0.8" />
<polygon points="624.5,490.3 624.7,489.9 625,489.5 625.4,489.2 625.9,489 626.5,488.8 627.2,488.7 627.9,488.7 628.7,488.7 629.5,488.8 630.3,488.9 631.2,489.1 632,489.4 632.8,489.7 633.6,490.1 634.4,490.5 635.1,491 635.7,491.4 636.2,491.9 636.7,492.5 637,493 637.2,493.5 637.4,494 637.4,494.4 637.3,494.9 633.9,504.3 633.7,504.7 633.4,505 633,505.3 632.5,505.6 631.9,505.8 631.2,505.9 630.5,505.9 629.7,505.9 628.9,505.8 628,505.7 627.2,505.5 626.4,505.2 625.5,504.9 624.7,504.5 624,504.1 623.3,503.6 622.7,503.1 622.2,502.6 621.7,502.1 621.4,501.6 621.1,501.1 621,500.6 621,500.1 621.1,499.7" fill="#e4e4e4" stroke="#222" stroke-width="0.8" />
<ellipse cx="627.5" cy="502" rx="3.4" ry="6.8" transform="rotate(109.7 627.5 502)" fill="#efefef" stroke="#222" stroke-width="0.8" />
<polygon points="680,454.5 680.1,454.3 680.3,454.1 680.5,453.9 680.9,453.7 681.2,453.6 681.7,453.5 682.1,453.5 682.6,453.5 683.1,453.6 683.7,453.7 684.2,453.8 684.7,454 685.2,454.2 685.7,454.4 686.2,454.7 686.7,455 687,455.3 687.4,455.6 687.7,455.9 687.9,456.2 688,456.6 688.1,456.9 688.1,457.2 688,457.5 674.9,494 674.8,494.3 674.6,494.5 674.3,494.7 674,494.9 673.6,495 673.2,495 672.8,495.1 672.3,495.1 671.8,495 671.2,494.9 670.7,494.8 670.2,494.6 669.6,494.4 669.1,494.2 668.7,493.9 668.2,493.6 667.8,493.3 667.5,493 667.2,492.7 667,492.3 666.9,492 666.8,491.7 666.8,491.4 666.8,491.1" fill="#ececec" stroke="#222" stroke-width="0.8" />
<ellipse cx="670.9" cy="492.6" rx="2.1" ry="4.3" transform="rotate(109.7 670.9 492.6)" fill="#f2f2f2" stroke="#222" stroke-width="0.8" />
<polygon points="664.5,490.3 664.7,489.9 665,489.5 665.4,489.2 665.9,489 666.5,488.8 667.2,488.7 667.9,488.7 668.7,488.7 669.5,488.8 670.3,488.9 671.2,489.1 672,489.4 672.8,489.7 673.6,490.1 674.4,490.5 675.1,491 675.7,491.4 676.2,491.9 676.7,492.5 677,493 677.2,493.5 677.4,494 677.4,494.4 677.3,494.9 673.9,504.3 673.7,504.7 673.4,505 673,505.3 672.5,505.6 671.9,505.8 671.2,505.9 670.5,505.9 669.7,505.9 668.9,505.8 668,505.7 667.2,505.5 666.4,505.2 665.5,504.9 664.7,504.5 664,504.1 663.3,503.6 662.7,503.1 662.2,502.6 661.7,502.1 661.4,501.6 661.1,501.1 661,500.6 661,500.1 661.1,499.7" fill="#e4e4e4" stroke="#222" stroke-width="0.8" />
<ellipse cx="667.5" cy="502" rx="3.4" ry="6.8" transform="rotate(109.7 667.5 502)" fill="#efefef" stroke="#222" stroke-width="0.8" />
<polygon points="740.6,454 738.8,452.9 737.1,451.4 735.8,449.5 734.7,447.4 733.8,445 733.3,442.3 733.1,439.5 733.2,436.5 733.6,433.5 734.3,430.4 735.4,427.3 736.6,424.3 738.2,421.4 740,418.7 741.9,416.3 744.1,414 746.3,412.1 748.7,410.5 751.1,409.3 753.5,408.4 755.9,408 758.2,407.9 760.3,408.2 762.4,409 774.4,414.8 776.2,415.9 777.9,417.4 779.2,419.3 780.3,421.4 781.2,423.8 781.7,426.5 781.9,429.3 781.8,432.3 781.4,435.3 780.7,438.4 779.6,441.5 778.4,444.5 776.8,447.4 775,450.1 773.1,452.5 770.9,454.8 768.7,456.7 766.3,458.3 763.9,459.5 761.5,460.4 759.1,460.8 756.8,460.9 754.7,460.6 752.6,459.8" fill="#ececec" stroke="#222" stroke-width="0.9" />
<ellipse cx="763.5" cy="437.3" rx="16.5" ry="25" transform="rotate(25.8 763.5 437.3)" fill="#fbfbfb" stroke="#222" stroke-width="0.9" />
<polygon points="774.4,414.8 775.9,415.7 777.2,416.8 778.4,418.1 779.5,419.7 780.3,421.4 781,423.3 781.5,425.4 781.8,427.6 781.9,429.9 781.8,432.3 781.5,434.7 781,437.2 780.3,439.6 779.4,442.1 778.4,444.5 777.1,446.8 775.8,449 774.3,451.1 772.6,453 770.9,454.8 769.1,456.3 767.3,457.7 765.4,458.8 763.4,459.7 761.5,460.4 759.6,460.8 757.7,460.9 755.9,460.8 754.2,460.4 752.6,459.8 740.6,454 742.2,454.6 743.9,455 745.7,455.1 747.6,455 749.5,454.6 751.4,453.9 753.4,453 755.3,451.9 757.1,450.5 758.9,449 760.6,447.2 762.3,445.3 763.8,443.2 765.1,441 766.4,438.7 767.4,436.3 768.3,433.8 769,431.4 769.5,428.9 769.8,426.5 769.9,424.1 769.8,421.8 769.5,419.6 769,417.5 768.3,415.6 767.5,413.9 766.4,412.3 765.2,411 763.9,409.9 762.4,409" fill="#d9d9d9" stroke="none" stroke-width="0" />
<polyline points="740.6,454 742.2,454.6 743.9,455 745.7,455.1 747.6,455 749.5,454.6 751.4,453.9 753.4,453 755.3,451.9 757.1,450.5 758.9,449 760.6,447.2 762.3,445.3 763.8,443.2 765.1,441 766.4,438.7 767.4,436.3 768.3,433.8 769,431.4 769.5,428.9 769.8,426.5 769.9,424.1 769.8,421.8 769.5,419.6 769,417.5 768.3,415.6 767.5,413.9 766.4,412.3 765.2,411 763.9,409.9 762.4,409" fill="none" stroke="#333" stroke-width="0.8" />
<ellipse cx="763.5" cy="437.3" rx="16.5" ry="25" transform="rotate(25.8 763.5 437.3)" fill="none" stroke="#222" stroke-width="0.9" />
<line x1="733" y1="433" x2="742" y2="436" stroke="#333" stroke-width="0.7" />
<line x1="712" y1="409" x2="743" y2="418" stroke="#333" stroke-width="0.8" stroke-dasharray="2.2 2"/>
<polygon points="773.2,672.1 773,671.9 772.7,671.7 772.5,671.4 772.3,671.1 772.2,670.7 772.1,670.3 772.1,669.9 772.2,669.5 772.2,669 772.4,668.6 772.5,668.1 772.7,667.7 773,667.3 773.3,667 773.6,666.6 773.9,666.3 774.3,666.1 774.6,665.9 775,665.7 775.4,665.6 775.8,665.6 776.1,665.6 776.5,665.7 776.8,665.9 784.8,670.4 785,670.6 785.3,670.8 785.5,671.1 785.7,671.4 785.8,671.8 785.9,672.2 785.9,672.6 785.8,673 785.8,673.5 785.6,673.9 785.5,674.4 785.3,674.8 785,675.2 784.7,675.5 784.4,675.9 784.1,676.2 783.7,676.4 783.4,676.6 783,676.8 782.6,676.9 782.2,676.9 781.9,676.9 781.5,676.8 781.2,676.6" fill="#f0f0f0" stroke="#222" stroke-width="0.8" />
<ellipse cx="783" cy="673.5" rx="2.6" ry="3.6" transform="rotate(29.4 783 673.5)" fill="#f0f0f0" stroke="#222" stroke-width="0.8" />
<ellipse cx="787" cy="676" rx="4.5" ry="6.8" transform="rotate(29 787 676)" fill="#e8e8e8" stroke="#222" stroke-width="0.8" />
<ellipse cx="787.5" cy="676.3" rx="1.6" ry="2.4" transform="rotate(29 787.5 676.3)" fill="#ccc" stroke="#555" stroke-width="0.5" />
<polygon points="711.2,731.1 711,730.9 710.7,730.7 710.5,730.4 710.3,730.1 710.2,729.7 710.1,729.3 710.1,728.9 710.2,728.5 710.2,728 710.4,727.6 710.5,727.1 710.7,726.7 711,726.3 711.3,726 711.6,725.6 711.9,725.3 712.3,725.1 712.6,724.9 713,724.7 713.4,724.6 713.8,724.6 714.1,724.6 714.5,724.7 714.8,724.9 722.8,729.4 723,729.6 723.3,729.8 723.5,730.1 723.7,730.4 723.8,730.8 723.9,731.2 723.9,731.6 723.8,732 723.8,732.5 723.6,732.9 723.5,733.4 723.3,733.8 723,734.2 722.7,734.5 722.4,734.9 722.1,735.2 721.7,735.4 721.4,735.6 721,735.8 720.6,735.9 720.2,735.9 719.9,735.9 719.5,735.8 719.2,735.6" fill="#f0f0f0" stroke="#222" stroke-width="0.8" />
<ellipse cx="721" cy="732.5" rx="2.6" ry="3.6" transform="rotate(29.4 721 732.5)" fill="#f0f0f0" stroke="#222" stroke-width="0.8" />
<ellipse cx="725" cy="735" rx="4.5" ry="6.8" transform="rotate(29 725 735)" fill="#e8e8e8" stroke="#222" stroke-width="0.8" />
<ellipse cx="725.5" cy="735.3" rx="1.6" ry="2.4" transform="rotate(29 725.5 735.3)" fill="#ccc" stroke="#555" stroke-width="0.5" />
<polygon points="789.2,742.1 789,741.9 788.7,741.7 788.5,741.4 788.3,741.1 788.2,740.7 788.1,740.3 788.1,739.9 788.2,739.5 788.2,739 788.4,738.6 788.5,738.1 788.7,737.7 789,737.3 789.3,737 789.6,736.6 789.9,736.3 790.3,736.1 790.6,735.9 791,735.7 791.4,735.6 791.8,735.6 792.1,735.6 792.5,735.7 792.8,735.9 800.8,740.4 801,740.6 801.3,740.8 801.5,741.1 801.7,741.4 801.8,741.8 801.9,742.2 801.9,742.6 801.8,743 801.8,743.5 801.6,743.9 801.5,744.4 801.3,744.8 801,745.2 800.7,745.5 800.4,745.9 800.1,746.2 799.7,746.4 799.4,746.6 799,746.8 798.6,746.9 798.2,746.9 797.9,746.9 797.5,746.8 797.2,746.6" fill="#f0f0f0" stroke="#222" stroke-width="0.8" />
<ellipse cx="799" cy="743.5" rx="2.6" ry="3.6" transform="rotate(29.4 799 743.5)" fill="#f0f0f0" stroke="#222" stroke-width="0.8" />
<ellipse cx="803" cy="746" rx="4.5" ry="6.8" transform="rotate(29 803 746)" fill="#e8e8e8" stroke="#222" stroke-width="0.8" />
<ellipse cx="803.5" cy="746.3" rx="1.6" ry="2.4" transform="rotate(29 803.5 746.3)" fill="#ccc" stroke="#555" stroke-width="0.5" />
<polygon points="731.2,790.1 731,789.9 730.7,789.7 730.5,789.4 730.3,789.1 730.2,788.7 730.1,788.3 730.1,787.9 730.2,787.5 730.2,787 730.4,786.6 730.5,786.1 730.7,785.7 731,785.3 731.3,785 731.6,784.6 731.9,784.3 732.3,784.1 732.6,783.9 733,783.7 733.4,783.6 733.8,783.6 734.1,783.6 734.5,783.7 734.8,783.9 742.8,788.4 743,788.6 743.3,788.8 743.5,789.1 743.7,789.4 743.8,789.8 743.9,790.2 743.9,790.6 743.8,791 743.8,791.5 743.6,791.9 743.5,792.4 743.3,792.8 743,793.2 742.7,793.5 742.4,793.9 742.1,794.2 741.7,794.4 741.4,794.6 741,794.8 740.6,794.9 740.2,794.9 739.9,794.9 739.5,794.8 739.2,794.6" fill="#f0f0f0" stroke="#222" stroke-width="0.8" />
<ellipse cx="741" cy="791.5" rx="2.6" ry="3.6" transform="rotate(29.4 741 791.5)" fill="#f0f0f0" stroke="#222" stroke-width="0.8" />
<ellipse cx="745" cy="794" rx="4.5" ry="6.8" transform="rotate(29 745 794)" fill="#e8e8e8" stroke="#222" stroke-width="0.8" />
<ellipse cx="745.5" cy="794.3" rx="1.6" ry="2.4" transform="rotate(29 745.5 794.3)" fill="#ccc" stroke="#555" stroke-width="0.5" />
<polygon points="503.4,817.4 511.4,817.4 522.6,811 530.6,801.4 536,790 514.6,790.2" fill="#c8c8c8" stroke="#222" stroke-width="0.8" />
<polygon points="484.2,778.2 474.6,803 503.4,817.4 514.6,790.2" fill="#f4f4f4" stroke="#222" stroke-width="0.8" />
<polygon points="503.4,753.4 521,741.4 548.2,757.4 529,770.2" fill="#f6f6f6" stroke="#222" stroke-width="0.8" />
<polygon points="529,770.2 548.2,757.4 549,767.8 546.6,779 540,790 530,798" fill="#c8c8c8" stroke="#222" stroke-width="0.8" />
<polygon points="435.9,745.2 435.2,744.7 434.6,744.1 434.1,743.3 433.8,742.4 433.5,741.4 433.4,740.3 433.5,739.1 433.6,737.9 433.9,736.6 434.3,735.4 434.8,734.1 435.4,732.9 436.1,731.7 436.9,730.6 437.8,729.6 438.7,728.7 439.7,727.9 440.7,727.3 441.7,726.8 442.6,726.5 443.6,726.3 444.5,726.3 445.3,726.5 446.1,726.8 464.5,737.1 465.1,737.5 465.7,738.2 466.2,738.9 466.6,739.8 466.8,740.8 466.9,741.9 466.9,743.1 466.7,744.3 466.5,745.6 466.1,746.9 465.6,748.1 464.9,749.3 464.2,750.5 463.4,751.6 462.6,752.6 461.6,753.5 460.7,754.3 459.7,754.9 458.7,755.4 457.7,755.7 456.8,755.9 455.9,755.9 455,755.7 454.2,755.4" fill="#f4f4f4" stroke="#222" stroke-width="0.9" />
<ellipse cx="459.3" cy="746.2" rx="6.4" ry="10.5" transform="rotate(29.1 459.3 746.2)" fill="#f4f4f4" stroke="#222" stroke-width="0.9" />
<polygon points="451.8,757.8 450.9,757.2 450.1,756.3 449.5,755.3 449,754.1 448.7,752.8 448.5,751.4 448.6,749.8 448.8,748.2 449.1,746.6 449.6,744.9 450.3,743.3 451.1,741.6 452.1,740.1 453.1,738.7 454.3,737.3 455.5,736.2 456.7,735.2 458,734.3 459.3,733.7 460.6,733.3 461.9,733 463.1,733 464.2,733.3 465.2,733.7 468.7,735.6 469.6,736.3 470.4,737.1 471,738.1 471.5,739.3 471.8,740.6 471.9,742.1 471.9,743.6 471.7,745.2 471.3,746.9 470.8,748.5 470.1,750.2 469.3,751.8 468.4,753.3 467.3,754.8 466.2,756.1 465,757.3 463.7,758.3 462.4,759.1 461.1,759.7 459.8,760.2 458.6,760.4 457.4,760.4 456.3,760.2 455.2,759.7" fill="#eeeeee" stroke="#222" stroke-width="0.8" />
<ellipse cx="462" cy="747.7" rx="8.4" ry="13.8" transform="rotate(29.1 462 747.7)" fill="#f6f6f6" stroke="#222" stroke-width="0.8" />
<polygon points="456.1,758.2 455.3,757.6 454.6,756.9 454.1,756 453.6,754.9 453.3,753.8 453.2,752.5 453.2,751.2 453.4,749.8 453.7,748.3 454.1,746.9 454.7,745.4 455.4,744 456.2,742.7 457.1,741.4 458.1,740.3 459.2,739.3 460.3,738.4 461.5,737.7 462.6,737.1 463.7,736.8 464.9,736.6 465.9,736.6 466.9,736.8 467.8,737.2 558.4,787.7 559.2,788.2 559.9,789 560.4,789.9 560.9,790.9 561.1,792.1 561.3,793.3 561.3,794.7 561.1,796.1 560.8,797.5 560.4,799 559.8,800.4 559.1,801.8 558.3,803.1 557.3,804.4 556.3,805.5 555.3,806.6 554.2,807.4 553,808.2 551.9,808.7 550.7,809.1 549.6,809.2 548.6,809.2 547.6,809 546.7,808.6" fill="#f2f2f2" stroke="#222" stroke-width="0.9" />
<ellipse cx="552.5" cy="798.2" rx="7.5" ry="12" transform="rotate(29.1 552.5 798.2)" fill="#f2f2f2" stroke="#222" stroke-width="0.9" />
<line x1="470.7" y1="752.6" x2="545.5" y2="794.3" stroke="#ffffff" stroke-width="4" />
<polygon points="542.5,808 541.6,807.4 540.8,806.6 540.2,805.6 539.8,804.4 539.4,803.1 539.3,801.7 539.3,800.2 539.5,798.6 539.9,797 540.4,795.4 541.1,793.8 541.9,792.2 542.8,790.7 543.8,789.3 544.9,788 546.1,786.9 547.3,785.9 548.6,785 549.9,784.4 551.1,784 552.4,783.8 553.5,783.8 554.6,784 555.6,784.4 558.2,785.9 559.1,786.5 559.8,787.3 560.5,788.3 560.9,789.5 561.2,790.7 561.4,792.2 561.3,793.7 561.1,795.2 560.8,796.8 560.3,798.5 559.6,800.1 558.8,801.7 557.9,803.2 556.9,804.6 555.7,805.9 554.6,807 553.3,808 552.1,808.8 550.8,809.5 549.5,809.9 548.3,810.1 547.1,810.1 546.1,809.9 545.1,809.5" fill="#ececec" stroke="#222" stroke-width="0.8" />
<ellipse cx="551.6" cy="797.7" rx="8.2" ry="13.5" transform="rotate(29.1 551.6 797.7)" fill="#f6f6f6" stroke="#222" stroke-width="0.8" />
<polygon points="546.7,806.6 546,806.1 545.4,805.5 544.9,804.7 544.5,803.8 544.3,802.8 544.2,801.8 544.2,800.6 544.3,799.4 544.6,798.2 545,797 545.5,795.7 546.1,794.6 546.8,793.4 547.5,792.4 548.4,791.4 549.3,790.5 550.2,789.8 551.2,789.2 552.2,788.7 553.2,788.4 554.1,788.2 555,788.3 555.8,788.4 556.6,788.8 568,795.1 568.7,795.6 569.2,796.2 569.7,797 570.1,797.8 570.3,798.8 570.5,799.9 570.5,801 570.3,802.2 570.1,803.5 569.7,804.7 569.2,805.9 568.6,807.1 567.9,808.3 567.1,809.3 566.3,810.3 565.4,811.2 564.4,811.9 563.4,812.5 562.5,813 561.5,813.3 560.6,813.4 559.7,813.4 558.8,813.2 558,812.9" fill="#f2f2f2" stroke="#222" stroke-width="0.9" />
<ellipse cx="563" cy="804" rx="6.4" ry="10.2" transform="rotate(29.1 563 804)" fill="#f6f6f6" stroke="#222" stroke-width="0.9" />
<line x1="562.1" y1="803.5" x2="563.4" y2="804.2" stroke="#888" stroke-width="0.6" />

<g id="leaders" stroke="#5555b0" stroke-width="1.1" fill="none">
<path d="M694 81H742M700 86L736 101M698 89L731 121"/>
<path d="M632 161.4H687"/>
<path d="M633.6 204.8H707"/>
<path d="M849.4 188.7V240.5"/>
<path d="M890.3 219.5V263.6"/>
<path d="M726 312H782.4"/>
<path d="M825.6 427.9L764.8 413.5M825.6 434.8L766 452"/>
<path d="M676.5 491H719"/>
<path d="M287 486.5H343"/>
<path d="M434.8 614H493.6"/>
<path d="M783.3 616V670"/>
<path d="M91.5 578.2H125.8"/>
<path d="M122.3 617.7H158.7"/>
<path d="M205.3 664.8H238.6"/>
<path d="M249.8 705.4H284.1"/>
<path d="M382 683.3H411"/>
<path d="M406.8 708.5H433.7"/>
<path d="M456 730.5H488.5"/>
<path d="M400.8 769.7H425.5"/>
</g>
<g id="labels" fill="#1a1ad0" font-family="Liberation Sans, sans-serif" font-size="22" text-anchor="middle">
<text x="690" y="88.7">1</text>
<text x="626.5" y="169.5">2</text>
<text x="627.5" y="212.7">3</text>
<text x="849" y="183.7">5</text>
<text x="890.5" y="214.7">2</text>
<text x="789" y="320.3">4</text>
<text x="837.2" y="438.7">10</text>
<text x="725.3" y="499.2">6</text>
<text x="281" y="494.2">7</text>
<text x="429" y="622.5">8</text>
<text x="783.8" y="611.7">9</text>
<text x="82" y="586.3">11</text>
<text x="111" y="626.2">12</text>
<text x="193.8" y="672.9">13</text>
<text x="238.5" y="713.5">14</text>
<text x="422.5" y="691.5">15</text>
<text x="445" y="717.0">16</text>
<text x="499.5" y="739.2">17</text>
<text x="389.7" y="777.5">18</text>
</g>

</svg>
<div class="ft" style="left:69px;top:911.5px;font-size:19px;letter-spacing:-0.2px">&#169; 2022 Indian Motorcycle International, LLC</div>
<div class="ft" style="left:880.5px;top:917.6px;font-size:12.9px">201700C</div>
</body></html>
